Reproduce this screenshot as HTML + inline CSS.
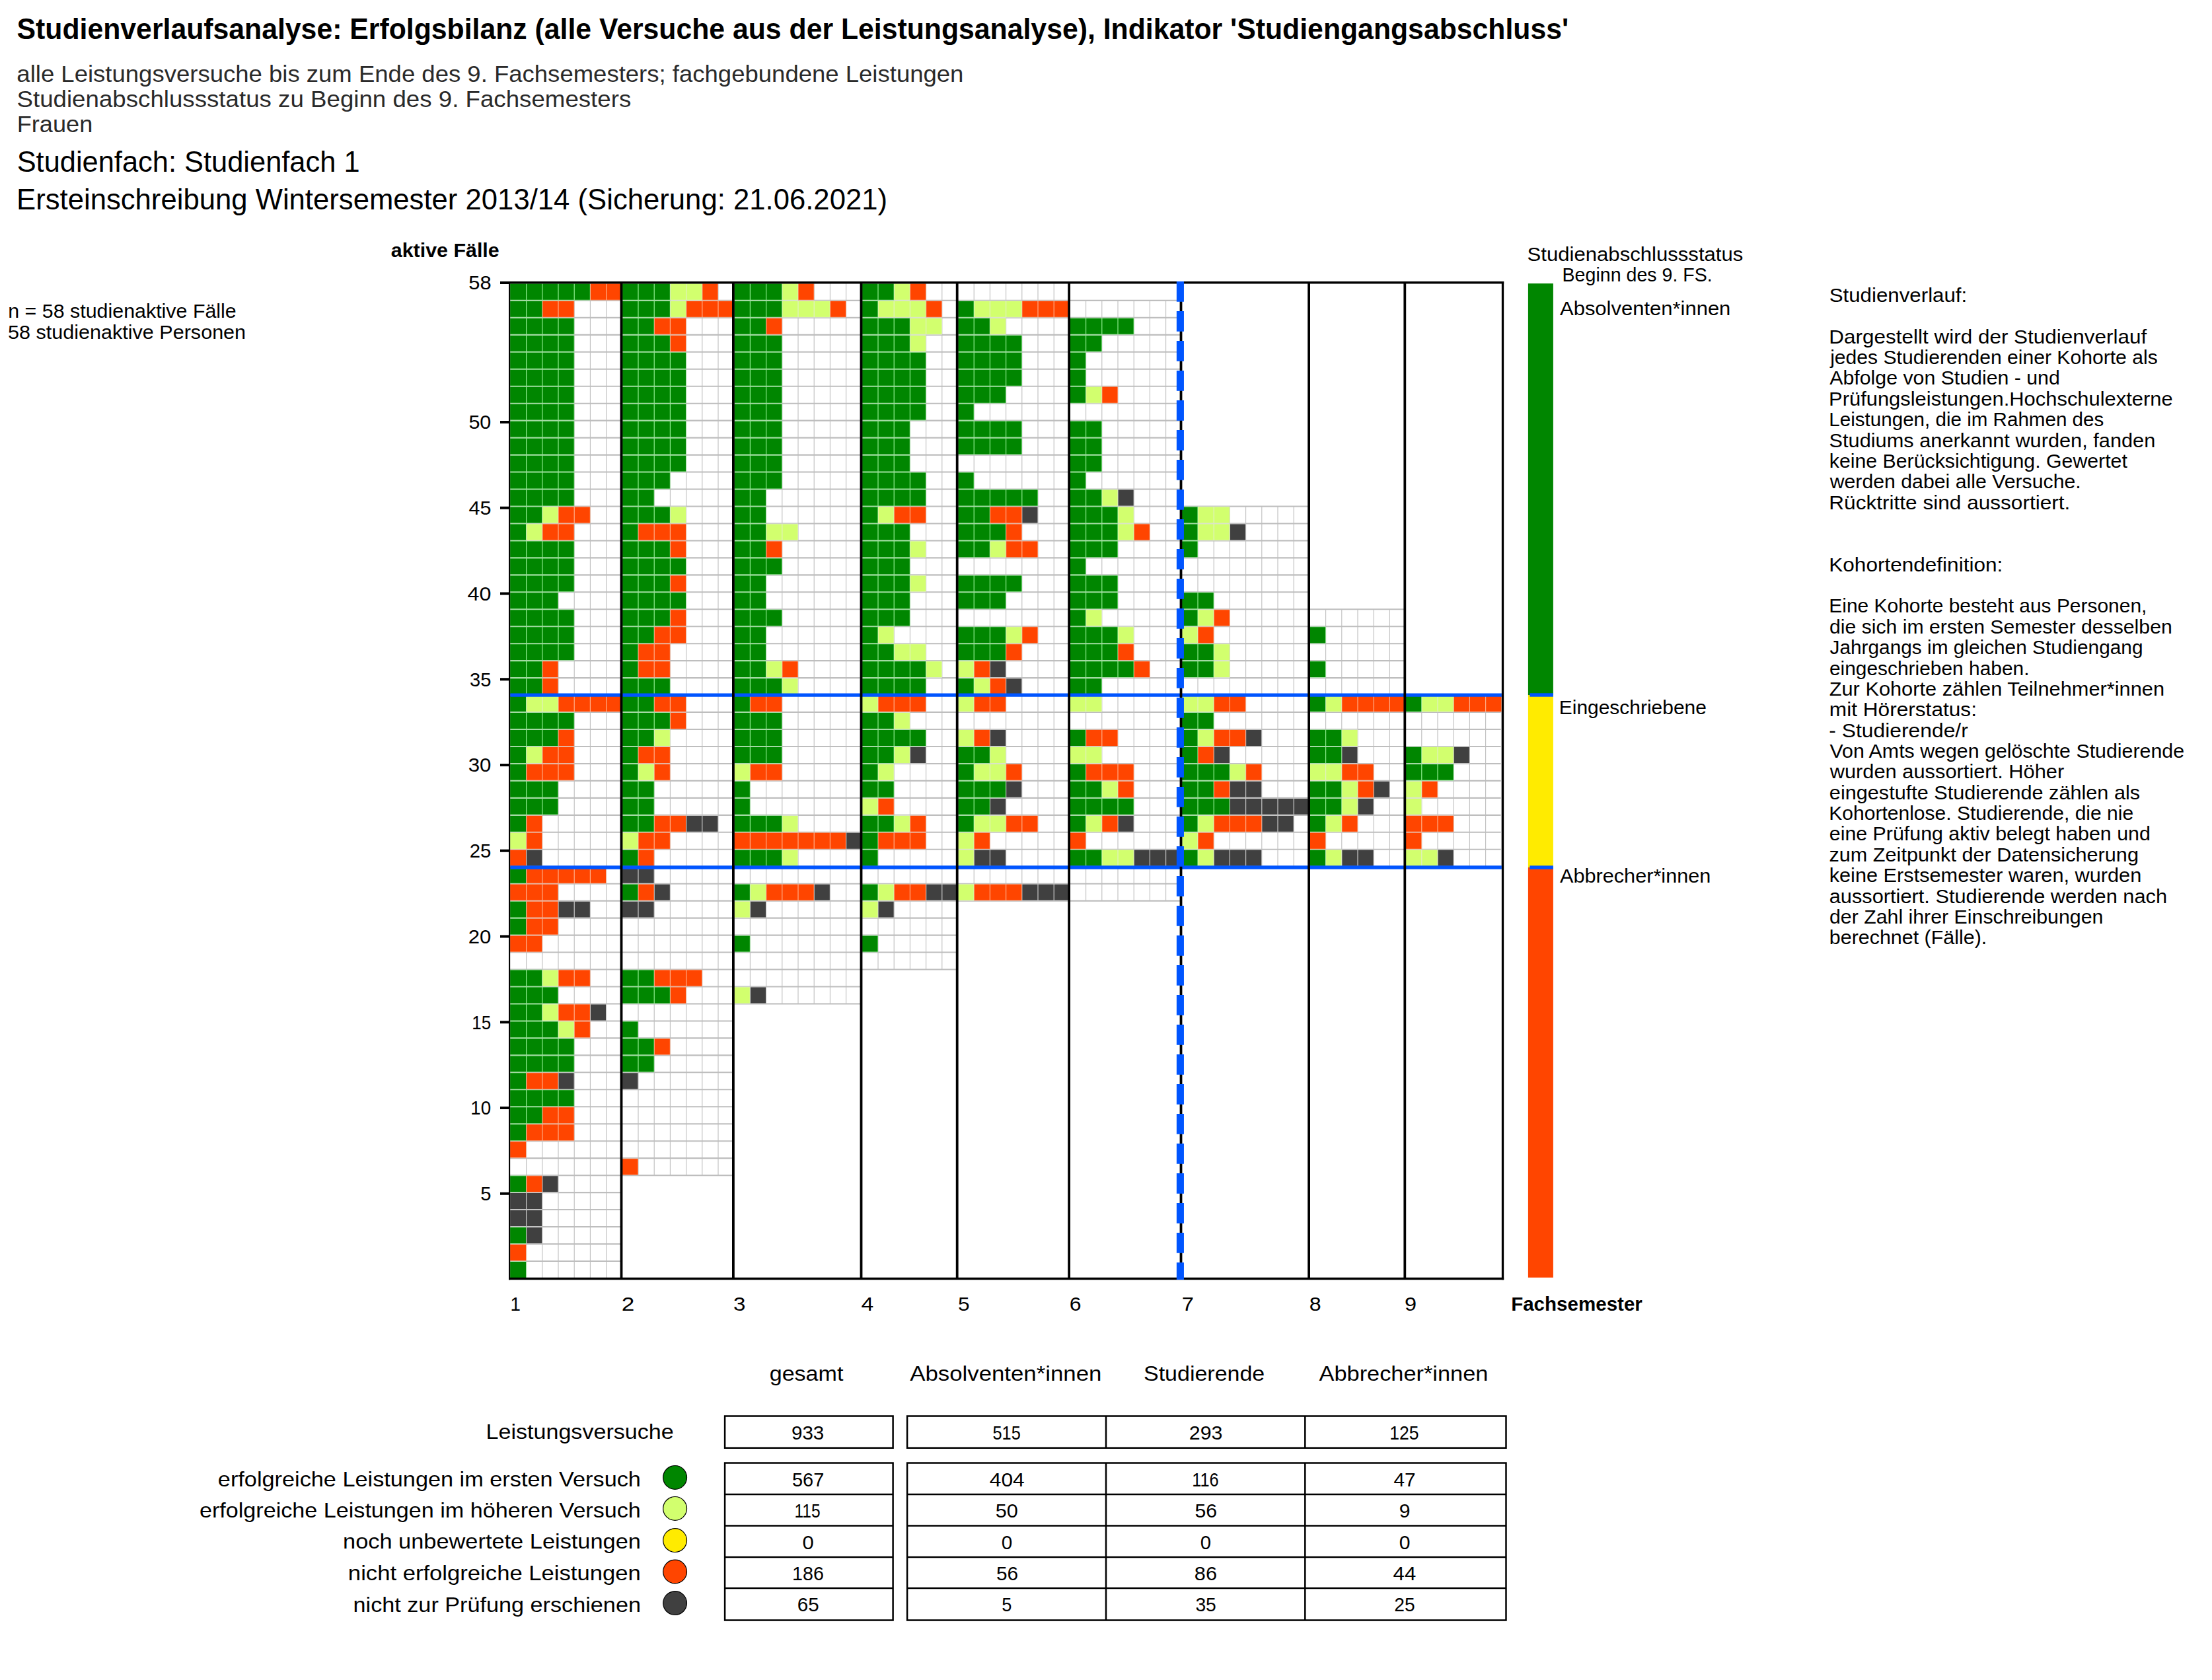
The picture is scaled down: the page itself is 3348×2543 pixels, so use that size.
<!DOCTYPE html>
<html lang="de"><head><meta charset="utf-8"><title>Studienverlaufsanalyse</title>
<style>html,body{margin:0;padding:0;background:#fff;width:3348px;height:2543px;overflow:hidden}</style>
</head><body>
<svg width="3348" height="2543" viewBox="0 0 3348 2543" style="display:block;position:absolute;left:0;top:0">
<rect x="0" y="0" width="3348" height="2543" fill="#FFFFFF"/>
<path d="M771.2 1908.94H940.6M771.2 1882.97H940.6M771.2 1857.01H940.6M771.2 1831.04H940.6M771.2 1805.08H940.6M771.2 1779.11H940.6M771.2 1753.14H940.6M771.2 1727.18H940.6M771.2 1701.22H940.6M771.2 1675.25H940.6M771.2 1649.29H940.6M771.2 1623.32H940.6M771.2 1597.36H940.6M771.2 1571.39H940.6M771.2 1545.43H940.6M771.2 1519.46H940.6M771.2 1493.5H940.6M771.2 1467.53H940.6M771.2 1441.57H940.6M771.2 1415.6H940.6M771.2 1389.64H940.6M771.2 1363.67H940.6M771.2 1337.7H940.6M771.2 1311.74H940.6M771.2 1285.78H940.6M771.2 1259.81H940.6M771.2 1233.85H940.6M771.2 1207.88H940.6M771.2 1181.91H940.6M771.2 1155.95H940.6M771.2 1129.99H940.6M771.2 1104.02H940.6M771.2 1078.06H940.6M771.2 1052.09H940.6M771.2 1026.12H940.6M771.2 1000.16H940.6M771.2 974.2H940.6M771.2 948.23H940.6M771.2 922.27H940.6M771.2 896.3H940.6M771.2 870.34H940.6M771.2 844.37H940.6M771.2 818.41H940.6M771.2 792.44H940.6M771.2 766.48H940.6M771.2 740.51H940.6M771.2 714.55H940.6M771.2 688.58H940.6M771.2 662.62H940.6M771.2 636.65H940.6M771.2 610.69H940.6M771.2 584.72H940.6M771.2 558.76H940.6M771.2 532.79H940.6M771.2 506.83H940.6M771.2 480.86H940.6M771.2 454.9H940.6M940.6 1779.11H1110M940.6 1753.14H1110M940.6 1727.18H1110M940.6 1701.22H1110M940.6 1675.25H1110M940.6 1649.29H1110M940.6 1623.32H1110M940.6 1597.36H1110M940.6 1571.39H1110M940.6 1545.43H1110M940.6 1519.46H1110M940.6 1493.5H1110M940.6 1467.53H1110M940.6 1441.57H1110M940.6 1415.6H1110M940.6 1389.64H1110M940.6 1363.67H1110M940.6 1337.7H1110M940.6 1311.74H1110M940.6 1285.78H1110M940.6 1259.81H1110M940.6 1233.85H1110M940.6 1207.88H1110M940.6 1181.91H1110M940.6 1155.95H1110M940.6 1129.99H1110M940.6 1104.02H1110M940.6 1078.06H1110M940.6 1052.09H1110M940.6 1026.12H1110M940.6 1000.16H1110M940.6 974.2H1110M940.6 948.23H1110M940.6 922.27H1110M940.6 896.3H1110M940.6 870.34H1110M940.6 844.37H1110M940.6 818.41H1110M940.6 792.44H1110M940.6 766.48H1110M940.6 740.51H1110M940.6 714.55H1110M940.6 688.58H1110M940.6 662.62H1110M940.6 636.65H1110M940.6 610.69H1110M940.6 584.72H1110M940.6 558.76H1110M940.6 532.79H1110M940.6 506.83H1110M940.6 480.86H1110M940.6 454.9H1110M1110 1519.46H1303.6M1110 1493.5H1303.6M1110 1467.53H1303.6M1110 1441.57H1303.6M1110 1415.6H1303.6M1110 1389.64H1303.6M1110 1363.67H1303.6M1110 1337.7H1303.6M1110 1311.74H1303.6M1110 1285.78H1303.6M1110 1259.81H1303.6M1110 1233.85H1303.6M1110 1207.88H1303.6M1110 1181.91H1303.6M1110 1155.95H1303.6M1110 1129.99H1303.6M1110 1104.02H1303.6M1110 1078.06H1303.6M1110 1052.09H1303.6M1110 1026.12H1303.6M1110 1000.16H1303.6M1110 974.2H1303.6M1110 948.23H1303.6M1110 922.27H1303.6M1110 896.3H1303.6M1110 870.34H1303.6M1110 844.37H1303.6M1110 818.41H1303.6M1110 792.44H1303.6M1110 766.48H1303.6M1110 740.51H1303.6M1110 714.55H1303.6M1110 688.58H1303.6M1110 662.62H1303.6M1110 636.65H1303.6M1110 610.69H1303.6M1110 584.72H1303.6M1110 558.76H1303.6M1110 532.79H1303.6M1110 506.83H1303.6M1110 480.86H1303.6M1110 454.9H1303.6M1303.6 1467.53H1448.8M1303.6 1441.57H1448.8M1303.6 1415.6H1448.8M1303.6 1389.64H1448.8M1303.6 1363.67H1448.8M1303.6 1337.7H1448.8M1303.6 1311.74H1448.8M1303.6 1285.78H1448.8M1303.6 1259.81H1448.8M1303.6 1233.85H1448.8M1303.6 1207.88H1448.8M1303.6 1181.91H1448.8M1303.6 1155.95H1448.8M1303.6 1129.99H1448.8M1303.6 1104.02H1448.8M1303.6 1078.06H1448.8M1303.6 1052.09H1448.8M1303.6 1026.12H1448.8M1303.6 1000.16H1448.8M1303.6 974.2H1448.8M1303.6 948.23H1448.8M1303.6 922.27H1448.8M1303.6 896.3H1448.8M1303.6 870.34H1448.8M1303.6 844.37H1448.8M1303.6 818.41H1448.8M1303.6 792.44H1448.8M1303.6 766.48H1448.8M1303.6 740.51H1448.8M1303.6 714.55H1448.8M1303.6 688.58H1448.8M1303.6 662.62H1448.8M1303.6 636.65H1448.8M1303.6 610.69H1448.8M1303.6 584.72H1448.8M1303.6 558.76H1448.8M1303.6 532.79H1448.8M1303.6 506.83H1448.8M1303.6 480.86H1448.8M1303.6 454.9H1448.8M1448.8 1363.67H1618.2M1448.8 1337.7H1618.2M1448.8 1311.74H1618.2M1448.8 1285.78H1618.2M1448.8 1259.81H1618.2M1448.8 1233.85H1618.2M1448.8 1207.88H1618.2M1448.8 1181.91H1618.2M1448.8 1155.95H1618.2M1448.8 1129.99H1618.2M1448.8 1104.02H1618.2M1448.8 1078.06H1618.2M1448.8 1052.09H1618.2M1448.8 1026.12H1618.2M1448.8 1000.16H1618.2M1448.8 974.2H1618.2M1448.8 948.23H1618.2M1448.8 922.27H1618.2M1448.8 896.3H1618.2M1448.8 870.34H1618.2M1448.8 844.37H1618.2M1448.8 818.41H1618.2M1448.8 792.44H1618.2M1448.8 766.48H1618.2M1448.8 740.51H1618.2M1448.8 714.55H1618.2M1448.8 688.58H1618.2M1448.8 662.62H1618.2M1448.8 636.65H1618.2M1448.8 610.69H1618.2M1448.8 584.72H1618.2M1448.8 558.76H1618.2M1448.8 532.79H1618.2M1448.8 506.83H1618.2M1448.8 480.86H1618.2M1448.8 454.9H1618.2M1618.2 1363.67H1787.6M1618.2 1337.7H1787.6M1618.2 1311.74H1787.6M1618.2 1285.78H1787.6M1618.2 1259.81H1787.6M1618.2 1233.85H1787.6M1618.2 1207.88H1787.6M1618.2 1181.91H1787.6M1618.2 1155.95H1787.6M1618.2 1129.99H1787.6M1618.2 1104.02H1787.6M1618.2 1078.06H1787.6M1618.2 1052.09H1787.6M1618.2 1026.12H1787.6M1618.2 1000.16H1787.6M1618.2 974.2H1787.6M1618.2 948.23H1787.6M1618.2 922.27H1787.6M1618.2 896.3H1787.6M1618.2 870.34H1787.6M1618.2 844.37H1787.6M1618.2 818.41H1787.6M1618.2 792.44H1787.6M1618.2 766.48H1787.6M1618.2 740.51H1787.6M1618.2 714.55H1787.6M1618.2 688.58H1787.6M1618.2 662.62H1787.6M1618.2 636.65H1787.6M1618.2 610.69H1787.6M1618.2 584.72H1787.6M1618.2 558.76H1787.6M1618.2 532.79H1787.6M1618.2 506.83H1787.6M1618.2 480.86H1787.6M1618.2 454.9H1787.6M1787.6 1311.74H1981.2M1787.6 1285.78H1981.2M1787.6 1259.81H1981.2M1787.6 1233.85H1981.2M1787.6 1207.88H1981.2M1787.6 1181.91H1981.2M1787.6 1155.95H1981.2M1787.6 1129.99H1981.2M1787.6 1104.02H1981.2M1787.6 1078.06H1981.2M1787.6 1052.09H1981.2M1787.6 1026.12H1981.2M1787.6 1000.16H1981.2M1787.6 974.2H1981.2M1787.6 948.23H1981.2M1787.6 922.27H1981.2M1787.6 896.3H1981.2M1787.6 870.34H1981.2M1787.6 844.37H1981.2M1787.6 818.41H1981.2M1787.6 792.44H1981.2M1787.6 766.48H1981.2M1981.2 1311.74H2126.4M1981.2 1285.78H2126.4M1981.2 1259.81H2126.4M1981.2 1233.85H2126.4M1981.2 1207.88H2126.4M1981.2 1181.91H2126.4M1981.2 1155.95H2126.4M1981.2 1129.99H2126.4M1981.2 1104.02H2126.4M1981.2 1078.06H2126.4M1981.2 1052.09H2126.4M1981.2 1026.12H2126.4M1981.2 1000.16H2126.4M1981.2 974.2H2126.4M1981.2 948.23H2126.4M1981.2 922.27H2126.4M2126.4 1311.74H2271.6M2126.4 1285.78H2271.6M2126.4 1259.81H2271.6M2126.4 1233.85H2271.6M2126.4 1207.88H2271.6M2126.4 1181.91H2271.6M2126.4 1155.95H2271.6M2126.4 1129.99H2271.6M2126.4 1104.02H2271.6M2126.4 1078.06H2271.6M2126.4 1052.09H2271.6" stroke="#BEBEBE" stroke-width="2.1" fill="none"/>
<path d="M796.6 429.3V1934.9M820.8 429.3V1934.9M845 429.3V1934.9M869.2 429.3V1934.9M893.4 429.3V1934.9M917.6 429.3V1934.9M966 429.3V1779.11M990.2 429.3V1779.11M1014.4 429.3V1779.11M1038.6 429.3V1779.11M1062.8 429.3V1779.11M1087 429.3V1779.11M1135.4 429.3V1519.46M1159.6 429.3V1519.46M1183.8 429.3V1519.46M1208 429.3V1519.46M1232.2 429.3V1519.46M1256.4 429.3V1519.46M1280.6 429.3V1519.46M1329 429.3V1467.53M1353.2 429.3V1467.53M1377.4 429.3V1467.53M1401.6 429.3V1467.53M1425.8 429.3V1467.53M1474.2 429.3V1363.67M1498.4 429.3V1363.67M1522.6 429.3V1363.67M1546.8 429.3V1363.67M1571 429.3V1363.67M1595.2 429.3V1363.67M1643.6 454.9V1363.67M1667.8 454.9V1363.67M1692 454.9V1363.67M1716.2 454.9V1363.67M1740.4 454.9V1363.67M1764.6 454.9V1363.67M1813 766.48V1311.74M1837.2 766.48V1311.74M1861.4 766.48V1311.74M1885.6 766.48V1311.74M1909.8 766.48V1311.74M1934 766.48V1311.74M1958.2 766.48V1311.74M2006.6 922.27V1311.74M2030.8 922.27V1311.74M2055 922.27V1311.74M2079.2 922.27V1311.74M2103.4 922.27V1311.74M2151.8 1052.09V1311.74M2176 1052.09V1311.74M2200.2 1052.09V1311.74M2224.4 1052.09V1311.74M2248.6 1052.09V1311.74M2272.8 1052.09V1311.74" stroke="#BEBEBE" stroke-width="1.1" fill="none"/>
<path d="M772.2 429.4H796.6V454.9H772.2ZM796.6 429.4H820.8V454.9H796.6ZM820.8 429.4H845V454.9H820.8ZM845 429.4H869.2V454.9H845ZM869.2 429.4H893.4V454.9H869.2ZM942.1 429.4H966V454.9H942.1ZM966 429.4H990.2V454.9H966ZM990.2 429.4H1014.4V454.9H990.2ZM1111.5 429.4H1135.4V454.9H1111.5ZM1135.4 429.4H1159.6V454.9H1135.4ZM1159.6 429.4H1183.8V454.9H1159.6ZM1305.1 429.4H1329V454.9H1305.1ZM1329 429.4H1353.2V454.9H1329ZM772.2 454.9H796.6V480.86H772.2ZM796.6 454.9H820.8V480.86H796.6ZM942.1 454.9H966V480.86H942.1ZM966 454.9H990.2V480.86H966ZM990.2 454.9H1014.4V480.86H990.2ZM1111.5 454.9H1135.4V480.86H1111.5ZM1135.4 454.9H1159.6V480.86H1135.4ZM1159.6 454.9H1183.8V480.86H1159.6ZM1305.1 454.9H1329V480.86H1305.1ZM1450.3 454.9H1474.2V480.86H1450.3ZM772.2 480.86H796.6V506.83H772.2ZM796.6 480.86H820.8V506.83H796.6ZM820.8 480.86H845V506.83H820.8ZM845 480.86H869.2V506.83H845ZM942.1 480.86H966V506.83H942.1ZM966 480.86H990.2V506.83H966ZM1111.5 480.86H1135.4V506.83H1111.5ZM1135.4 480.86H1159.6V506.83H1135.4ZM1305.1 480.86H1329V506.83H1305.1ZM1329 480.86H1353.2V506.83H1329ZM1353.2 480.86H1377.4V506.83H1353.2ZM1450.3 480.86H1474.2V506.83H1450.3ZM1474.2 480.86H1498.4V506.83H1474.2ZM1619.7 480.86H1643.6V506.83H1619.7ZM1643.6 480.86H1667.8V506.83H1643.6ZM1667.8 480.86H1692V506.83H1667.8ZM1692 480.86H1716.2V506.83H1692ZM772.2 506.83H796.6V532.79H772.2ZM796.6 506.83H820.8V532.79H796.6ZM820.8 506.83H845V532.79H820.8ZM845 506.83H869.2V532.79H845ZM942.1 506.83H966V532.79H942.1ZM966 506.83H990.2V532.79H966ZM990.2 506.83H1014.4V532.79H990.2ZM1111.5 506.83H1135.4V532.79H1111.5ZM1135.4 506.83H1159.6V532.79H1135.4ZM1159.6 506.83H1183.8V532.79H1159.6ZM1305.1 506.83H1329V532.79H1305.1ZM1329 506.83H1353.2V532.79H1329ZM1353.2 506.83H1377.4V532.79H1353.2ZM1450.3 506.83H1474.2V532.79H1450.3ZM1474.2 506.83H1498.4V532.79H1474.2ZM1498.4 506.83H1522.6V532.79H1498.4ZM1522.6 506.83H1546.8V532.79H1522.6ZM1619.7 506.83H1643.6V532.79H1619.7ZM1643.6 506.83H1667.8V532.79H1643.6ZM772.2 532.79H796.6V558.76H772.2ZM796.6 532.79H820.8V558.76H796.6ZM820.8 532.79H845V558.76H820.8ZM845 532.79H869.2V558.76H845ZM942.1 532.79H966V558.76H942.1ZM966 532.79H990.2V558.76H966ZM990.2 532.79H1014.4V558.76H990.2ZM1014.4 532.79H1038.6V558.76H1014.4ZM1111.5 532.79H1135.4V558.76H1111.5ZM1135.4 532.79H1159.6V558.76H1135.4ZM1159.6 532.79H1183.8V558.76H1159.6ZM1305.1 532.79H1329V558.76H1305.1ZM1329 532.79H1353.2V558.76H1329ZM1353.2 532.79H1377.4V558.76H1353.2ZM1377.4 532.79H1401.6V558.76H1377.4ZM1450.3 532.79H1474.2V558.76H1450.3ZM1474.2 532.79H1498.4V558.76H1474.2ZM1498.4 532.79H1522.6V558.76H1498.4ZM1522.6 532.79H1546.8V558.76H1522.6ZM1619.7 532.79H1643.6V558.76H1619.7ZM772.2 558.76H796.6V584.72H772.2ZM796.6 558.76H820.8V584.72H796.6ZM820.8 558.76H845V584.72H820.8ZM845 558.76H869.2V584.72H845ZM942.1 558.76H966V584.72H942.1ZM966 558.76H990.2V584.72H966ZM990.2 558.76H1014.4V584.72H990.2ZM1014.4 558.76H1038.6V584.72H1014.4ZM1111.5 558.76H1135.4V584.72H1111.5ZM1135.4 558.76H1159.6V584.72H1135.4ZM1159.6 558.76H1183.8V584.72H1159.6ZM1305.1 558.76H1329V584.72H1305.1ZM1329 558.76H1353.2V584.72H1329ZM1353.2 558.76H1377.4V584.72H1353.2ZM1377.4 558.76H1401.6V584.72H1377.4ZM1450.3 558.76H1474.2V584.72H1450.3ZM1474.2 558.76H1498.4V584.72H1474.2ZM1498.4 558.76H1522.6V584.72H1498.4ZM1522.6 558.76H1546.8V584.72H1522.6ZM1619.7 558.76H1643.6V584.72H1619.7ZM772.2 584.72H796.6V610.69H772.2ZM796.6 584.72H820.8V610.69H796.6ZM820.8 584.72H845V610.69H820.8ZM845 584.72H869.2V610.69H845ZM942.1 584.72H966V610.69H942.1ZM966 584.72H990.2V610.69H966ZM990.2 584.72H1014.4V610.69H990.2ZM1014.4 584.72H1038.6V610.69H1014.4ZM1111.5 584.72H1135.4V610.69H1111.5ZM1135.4 584.72H1159.6V610.69H1135.4ZM1159.6 584.72H1183.8V610.69H1159.6ZM1305.1 584.72H1329V610.69H1305.1ZM1329 584.72H1353.2V610.69H1329ZM1353.2 584.72H1377.4V610.69H1353.2ZM1377.4 584.72H1401.6V610.69H1377.4ZM1450.3 584.72H1474.2V610.69H1450.3ZM1474.2 584.72H1498.4V610.69H1474.2ZM1498.4 584.72H1522.6V610.69H1498.4ZM1619.7 584.72H1643.6V610.69H1619.7ZM772.2 610.69H796.6V636.65H772.2ZM796.6 610.69H820.8V636.65H796.6ZM820.8 610.69H845V636.65H820.8ZM845 610.69H869.2V636.65H845ZM942.1 610.69H966V636.65H942.1ZM966 610.69H990.2V636.65H966ZM990.2 610.69H1014.4V636.65H990.2ZM1014.4 610.69H1038.6V636.65H1014.4ZM1111.5 610.69H1135.4V636.65H1111.5ZM1135.4 610.69H1159.6V636.65H1135.4ZM1159.6 610.69H1183.8V636.65H1159.6ZM1305.1 610.69H1329V636.65H1305.1ZM1329 610.69H1353.2V636.65H1329ZM1353.2 610.69H1377.4V636.65H1353.2ZM1377.4 610.69H1401.6V636.65H1377.4ZM1450.3 610.69H1474.2V636.65H1450.3ZM772.2 636.65H796.6V662.62H772.2ZM796.6 636.65H820.8V662.62H796.6ZM820.8 636.65H845V662.62H820.8ZM845 636.65H869.2V662.62H845ZM942.1 636.65H966V662.62H942.1ZM966 636.65H990.2V662.62H966ZM990.2 636.65H1014.4V662.62H990.2ZM1014.4 636.65H1038.6V662.62H1014.4ZM1111.5 636.65H1135.4V662.62H1111.5ZM1135.4 636.65H1159.6V662.62H1135.4ZM1159.6 636.65H1183.8V662.62H1159.6ZM1305.1 636.65H1329V662.62H1305.1ZM1329 636.65H1353.2V662.62H1329ZM1353.2 636.65H1377.4V662.62H1353.2ZM1450.3 636.65H1474.2V662.62H1450.3ZM1474.2 636.65H1498.4V662.62H1474.2ZM1498.4 636.65H1522.6V662.62H1498.4ZM1522.6 636.65H1546.8V662.62H1522.6ZM1619.7 636.65H1643.6V662.62H1619.7ZM1643.6 636.65H1667.8V662.62H1643.6ZM772.2 662.62H796.6V688.58H772.2ZM796.6 662.62H820.8V688.58H796.6ZM820.8 662.62H845V688.58H820.8ZM845 662.62H869.2V688.58H845ZM942.1 662.62H966V688.58H942.1ZM966 662.62H990.2V688.58H966ZM990.2 662.62H1014.4V688.58H990.2ZM1014.4 662.62H1038.6V688.58H1014.4ZM1111.5 662.62H1135.4V688.58H1111.5ZM1135.4 662.62H1159.6V688.58H1135.4ZM1159.6 662.62H1183.8V688.58H1159.6ZM1305.1 662.62H1329V688.58H1305.1ZM1329 662.62H1353.2V688.58H1329ZM1353.2 662.62H1377.4V688.58H1353.2ZM1450.3 662.62H1474.2V688.58H1450.3ZM1474.2 662.62H1498.4V688.58H1474.2ZM1498.4 662.62H1522.6V688.58H1498.4ZM1522.6 662.62H1546.8V688.58H1522.6ZM1619.7 662.62H1643.6V688.58H1619.7ZM1643.6 662.62H1667.8V688.58H1643.6ZM772.2 688.58H796.6V714.55H772.2ZM796.6 688.58H820.8V714.55H796.6ZM820.8 688.58H845V714.55H820.8ZM845 688.58H869.2V714.55H845ZM942.1 688.58H966V714.55H942.1ZM966 688.58H990.2V714.55H966ZM990.2 688.58H1014.4V714.55H990.2ZM1014.4 688.58H1038.6V714.55H1014.4ZM1111.5 688.58H1135.4V714.55H1111.5ZM1135.4 688.58H1159.6V714.55H1135.4ZM1159.6 688.58H1183.8V714.55H1159.6ZM1305.1 688.58H1329V714.55H1305.1ZM1329 688.58H1353.2V714.55H1329ZM1353.2 688.58H1377.4V714.55H1353.2ZM1619.7 688.58H1643.6V714.55H1619.7ZM1643.6 688.58H1667.8V714.55H1643.6ZM772.2 714.55H796.6V740.51H772.2ZM796.6 714.55H820.8V740.51H796.6ZM820.8 714.55H845V740.51H820.8ZM845 714.55H869.2V740.51H845ZM942.1 714.55H966V740.51H942.1ZM966 714.55H990.2V740.51H966ZM990.2 714.55H1014.4V740.51H990.2ZM1111.5 714.55H1135.4V740.51H1111.5ZM1135.4 714.55H1159.6V740.51H1135.4ZM1159.6 714.55H1183.8V740.51H1159.6ZM1305.1 714.55H1329V740.51H1305.1ZM1329 714.55H1353.2V740.51H1329ZM1353.2 714.55H1377.4V740.51H1353.2ZM1377.4 714.55H1401.6V740.51H1377.4ZM1450.3 714.55H1474.2V740.51H1450.3ZM1619.7 714.55H1643.6V740.51H1619.7ZM772.2 740.51H796.6V766.48H772.2ZM796.6 740.51H820.8V766.48H796.6ZM820.8 740.51H845V766.48H820.8ZM845 740.51H869.2V766.48H845ZM942.1 740.51H966V766.48H942.1ZM966 740.51H990.2V766.48H966ZM1111.5 740.51H1135.4V766.48H1111.5ZM1135.4 740.51H1159.6V766.48H1135.4ZM1305.1 740.51H1329V766.48H1305.1ZM1329 740.51H1353.2V766.48H1329ZM1353.2 740.51H1377.4V766.48H1353.2ZM1377.4 740.51H1401.6V766.48H1377.4ZM1450.3 740.51H1474.2V766.48H1450.3ZM1474.2 740.51H1498.4V766.48H1474.2ZM1498.4 740.51H1522.6V766.48H1498.4ZM1522.6 740.51H1546.8V766.48H1522.6ZM1546.8 740.51H1571V766.48H1546.8ZM1619.7 740.51H1643.6V766.48H1619.7ZM1643.6 740.51H1667.8V766.48H1643.6ZM772.2 766.48H796.6V792.44H772.2ZM796.6 766.48H820.8V792.44H796.6ZM942.1 766.48H966V792.44H942.1ZM966 766.48H990.2V792.44H966ZM990.2 766.48H1014.4V792.44H990.2ZM1111.5 766.48H1135.4V792.44H1111.5ZM1135.4 766.48H1159.6V792.44H1135.4ZM1305.1 766.48H1329V792.44H1305.1ZM1450.3 766.48H1474.2V792.44H1450.3ZM1474.2 766.48H1498.4V792.44H1474.2ZM1619.7 766.48H1643.6V792.44H1619.7ZM1643.6 766.48H1667.8V792.44H1643.6ZM1667.8 766.48H1692V792.44H1667.8ZM1789.1 766.48H1813V792.44H1789.1ZM772.2 792.44H796.6V818.41H772.2ZM942.1 792.44H966V818.41H942.1ZM1111.5 792.44H1135.4V818.41H1111.5ZM1135.4 792.44H1159.6V818.41H1135.4ZM1305.1 792.44H1329V818.41H1305.1ZM1329 792.44H1353.2V818.41H1329ZM1353.2 792.44H1377.4V818.41H1353.2ZM1450.3 792.44H1474.2V818.41H1450.3ZM1474.2 792.44H1498.4V818.41H1474.2ZM1498.4 792.44H1522.6V818.41H1498.4ZM1619.7 792.44H1643.6V818.41H1619.7ZM1643.6 792.44H1667.8V818.41H1643.6ZM1667.8 792.44H1692V818.41H1667.8ZM1789.1 792.44H1813V818.41H1789.1ZM772.2 818.41H796.6V844.37H772.2ZM796.6 818.41H820.8V844.37H796.6ZM820.8 818.41H845V844.37H820.8ZM845 818.41H869.2V844.37H845ZM942.1 818.41H966V844.37H942.1ZM966 818.41H990.2V844.37H966ZM990.2 818.41H1014.4V844.37H990.2ZM1111.5 818.41H1135.4V844.37H1111.5ZM1135.4 818.41H1159.6V844.37H1135.4ZM1305.1 818.41H1329V844.37H1305.1ZM1329 818.41H1353.2V844.37H1329ZM1353.2 818.41H1377.4V844.37H1353.2ZM1450.3 818.41H1474.2V844.37H1450.3ZM1474.2 818.41H1498.4V844.37H1474.2ZM1619.7 818.41H1643.6V844.37H1619.7ZM1643.6 818.41H1667.8V844.37H1643.6ZM1667.8 818.41H1692V844.37H1667.8ZM1789.1 818.41H1813V844.37H1789.1ZM772.2 844.37H796.6V870.34H772.2ZM796.6 844.37H820.8V870.34H796.6ZM820.8 844.37H845V870.34H820.8ZM845 844.37H869.2V870.34H845ZM942.1 844.37H966V870.34H942.1ZM966 844.37H990.2V870.34H966ZM990.2 844.37H1014.4V870.34H990.2ZM1014.4 844.37H1038.6V870.34H1014.4ZM1111.5 844.37H1135.4V870.34H1111.5ZM1135.4 844.37H1159.6V870.34H1135.4ZM1159.6 844.37H1183.8V870.34H1159.6ZM1305.1 844.37H1329V870.34H1305.1ZM1329 844.37H1353.2V870.34H1329ZM1353.2 844.37H1377.4V870.34H1353.2ZM1619.7 844.37H1643.6V870.34H1619.7ZM772.2 870.34H796.6V896.3H772.2ZM796.6 870.34H820.8V896.3H796.6ZM820.8 870.34H845V896.3H820.8ZM845 870.34H869.2V896.3H845ZM942.1 870.34H966V896.3H942.1ZM966 870.34H990.2V896.3H966ZM990.2 870.34H1014.4V896.3H990.2ZM1111.5 870.34H1135.4V896.3H1111.5ZM1135.4 870.34H1159.6V896.3H1135.4ZM1305.1 870.34H1329V896.3H1305.1ZM1329 870.34H1353.2V896.3H1329ZM1353.2 870.34H1377.4V896.3H1353.2ZM1450.3 870.34H1474.2V896.3H1450.3ZM1474.2 870.34H1498.4V896.3H1474.2ZM1498.4 870.34H1522.6V896.3H1498.4ZM1522.6 870.34H1546.8V896.3H1522.6ZM1619.7 870.34H1643.6V896.3H1619.7ZM1643.6 870.34H1667.8V896.3H1643.6ZM1667.8 870.34H1692V896.3H1667.8ZM772.2 896.3H796.6V922.27H772.2ZM796.6 896.3H820.8V922.27H796.6ZM820.8 896.3H845V922.27H820.8ZM942.1 896.3H966V922.27H942.1ZM966 896.3H990.2V922.27H966ZM990.2 896.3H1014.4V922.27H990.2ZM1014.4 896.3H1038.6V922.27H1014.4ZM1111.5 896.3H1135.4V922.27H1111.5ZM1135.4 896.3H1159.6V922.27H1135.4ZM1305.1 896.3H1329V922.27H1305.1ZM1329 896.3H1353.2V922.27H1329ZM1353.2 896.3H1377.4V922.27H1353.2ZM1450.3 896.3H1474.2V922.27H1450.3ZM1474.2 896.3H1498.4V922.27H1474.2ZM1498.4 896.3H1522.6V922.27H1498.4ZM1619.7 896.3H1643.6V922.27H1619.7ZM1643.6 896.3H1667.8V922.27H1643.6ZM1667.8 896.3H1692V922.27H1667.8ZM1789.1 896.3H1813V922.27H1789.1ZM1813 896.3H1837.2V922.27H1813ZM772.2 922.27H796.6V948.23H772.2ZM796.6 922.27H820.8V948.23H796.6ZM820.8 922.27H845V948.23H820.8ZM845 922.27H869.2V948.23H845ZM942.1 922.27H966V948.23H942.1ZM966 922.27H990.2V948.23H966ZM990.2 922.27H1014.4V948.23H990.2ZM1111.5 922.27H1135.4V948.23H1111.5ZM1135.4 922.27H1159.6V948.23H1135.4ZM1159.6 922.27H1183.8V948.23H1159.6ZM1305.1 922.27H1329V948.23H1305.1ZM1329 922.27H1353.2V948.23H1329ZM1353.2 922.27H1377.4V948.23H1353.2ZM1619.7 922.27H1643.6V948.23H1619.7ZM1789.1 922.27H1813V948.23H1789.1ZM772.2 948.23H796.6V974.2H772.2ZM796.6 948.23H820.8V974.2H796.6ZM820.8 948.23H845V974.2H820.8ZM845 948.23H869.2V974.2H845ZM942.1 948.23H966V974.2H942.1ZM966 948.23H990.2V974.2H966ZM1111.5 948.23H1135.4V974.2H1111.5ZM1135.4 948.23H1159.6V974.2H1135.4ZM1305.1 948.23H1329V974.2H1305.1ZM1450.3 948.23H1474.2V974.2H1450.3ZM1474.2 948.23H1498.4V974.2H1474.2ZM1498.4 948.23H1522.6V974.2H1498.4ZM1619.7 948.23H1643.6V974.2H1619.7ZM1643.6 948.23H1667.8V974.2H1643.6ZM1667.8 948.23H1692V974.2H1667.8ZM1982.7 948.23H2006.6V974.2H1982.7ZM772.2 974.2H796.6V1000.16H772.2ZM796.6 974.2H820.8V1000.16H796.6ZM820.8 974.2H845V1000.16H820.8ZM845 974.2H869.2V1000.16H845ZM942.1 974.2H966V1000.16H942.1ZM1111.5 974.2H1135.4V1000.16H1111.5ZM1135.4 974.2H1159.6V1000.16H1135.4ZM1305.1 974.2H1329V1000.16H1305.1ZM1329 974.2H1353.2V1000.16H1329ZM1450.3 974.2H1474.2V1000.16H1450.3ZM1474.2 974.2H1498.4V1000.16H1474.2ZM1498.4 974.2H1522.6V1000.16H1498.4ZM1619.7 974.2H1643.6V1000.16H1619.7ZM1643.6 974.2H1667.8V1000.16H1643.6ZM1667.8 974.2H1692V1000.16H1667.8ZM1789.1 974.2H1813V1000.16H1789.1ZM1813 974.2H1837.2V1000.16H1813ZM772.2 1000.16H796.6V1026.12H772.2ZM796.6 1000.16H820.8V1026.12H796.6ZM942.1 1000.16H966V1026.12H942.1ZM1111.5 1000.16H1135.4V1026.12H1111.5ZM1135.4 1000.16H1159.6V1026.12H1135.4ZM1305.1 1000.16H1329V1026.12H1305.1ZM1329 1000.16H1353.2V1026.12H1329ZM1353.2 1000.16H1377.4V1026.12H1353.2ZM1377.4 1000.16H1401.6V1026.12H1377.4ZM1619.7 1000.16H1643.6V1026.12H1619.7ZM1643.6 1000.16H1667.8V1026.12H1643.6ZM1667.8 1000.16H1692V1026.12H1667.8ZM1692 1000.16H1716.2V1026.12H1692ZM1789.1 1000.16H1813V1026.12H1789.1ZM1813 1000.16H1837.2V1026.12H1813ZM1982.7 1000.16H2006.6V1026.12H1982.7ZM772.2 1026.12H796.6V1052.09H772.2ZM796.6 1026.12H820.8V1052.09H796.6ZM942.1 1026.12H966V1052.09H942.1ZM966 1026.12H990.2V1052.09H966ZM990.2 1026.12H1014.4V1052.09H990.2ZM1111.5 1026.12H1135.4V1052.09H1111.5ZM1135.4 1026.12H1159.6V1052.09H1135.4ZM1159.6 1026.12H1183.8V1052.09H1159.6ZM1305.1 1026.12H1329V1052.09H1305.1ZM1329 1026.12H1353.2V1052.09H1329ZM1353.2 1026.12H1377.4V1052.09H1353.2ZM1377.4 1026.12H1401.6V1052.09H1377.4ZM1450.3 1026.12H1474.2V1052.09H1450.3ZM1619.7 1026.12H1643.6V1052.09H1619.7ZM1643.6 1026.12H1667.8V1052.09H1643.6ZM772.2 1052.09H796.6V1078.06H772.2ZM942.1 1052.09H966V1078.06H942.1ZM966 1052.09H990.2V1078.06H966ZM1111.5 1052.09H1135.4V1078.06H1111.5ZM1982.7 1052.09H2006.6V1078.06H1982.7ZM2127.9 1052.09H2151.8V1078.06H2127.9ZM772.2 1078.06H796.6V1104.02H772.2ZM796.6 1078.06H820.8V1104.02H796.6ZM820.8 1078.06H845V1104.02H820.8ZM845 1078.06H869.2V1104.02H845ZM942.1 1078.06H966V1104.02H942.1ZM966 1078.06H990.2V1104.02H966ZM990.2 1078.06H1014.4V1104.02H990.2ZM1111.5 1078.06H1135.4V1104.02H1111.5ZM1135.4 1078.06H1159.6V1104.02H1135.4ZM1159.6 1078.06H1183.8V1104.02H1159.6ZM1305.1 1078.06H1329V1104.02H1305.1ZM1329 1078.06H1353.2V1104.02H1329ZM1789.1 1078.06H1813V1104.02H1789.1ZM1813 1078.06H1837.2V1104.02H1813ZM772.2 1104.02H796.6V1129.99H772.2ZM796.6 1104.02H820.8V1129.99H796.6ZM820.8 1104.02H845V1129.99H820.8ZM942.1 1104.02H966V1129.99H942.1ZM966 1104.02H990.2V1129.99H966ZM1111.5 1104.02H1135.4V1129.99H1111.5ZM1135.4 1104.02H1159.6V1129.99H1135.4ZM1159.6 1104.02H1183.8V1129.99H1159.6ZM1305.1 1104.02H1329V1129.99H1305.1ZM1329 1104.02H1353.2V1129.99H1329ZM1353.2 1104.02H1377.4V1129.99H1353.2ZM1377.4 1104.02H1401.6V1129.99H1377.4ZM1619.7 1104.02H1643.6V1129.99H1619.7ZM1789.1 1104.02H1813V1129.99H1789.1ZM1982.7 1104.02H2006.6V1129.99H1982.7ZM2006.6 1104.02H2030.8V1129.99H2006.6ZM772.2 1129.99H796.6V1155.95H772.2ZM942.1 1129.99H966V1155.95H942.1ZM1111.5 1129.99H1135.4V1155.95H1111.5ZM1135.4 1129.99H1159.6V1155.95H1135.4ZM1159.6 1129.99H1183.8V1155.95H1159.6ZM1305.1 1129.99H1329V1155.95H1305.1ZM1329 1129.99H1353.2V1155.95H1329ZM1450.3 1129.99H1474.2V1155.95H1450.3ZM1474.2 1129.99H1498.4V1155.95H1474.2ZM1789.1 1129.99H1813V1155.95H1789.1ZM1982.7 1129.99H2006.6V1155.95H1982.7ZM2006.6 1129.99H2030.8V1155.95H2006.6ZM2127.9 1129.99H2151.8V1155.95H2127.9ZM772.2 1155.95H796.6V1181.91H772.2ZM942.1 1155.95H966V1181.91H942.1ZM1305.1 1155.95H1329V1181.91H1305.1ZM1450.3 1155.95H1474.2V1181.91H1450.3ZM1619.7 1155.95H1643.6V1181.91H1619.7ZM1789.1 1155.95H1813V1181.91H1789.1ZM1813 1155.95H1837.2V1181.91H1813ZM1837.2 1155.95H1861.4V1181.91H1837.2ZM2127.9 1155.95H2151.8V1181.91H2127.9ZM2151.8 1155.95H2176V1181.91H2151.8ZM2176 1155.95H2200.2V1181.91H2176ZM772.2 1181.91H796.6V1207.88H772.2ZM796.6 1181.91H820.8V1207.88H796.6ZM820.8 1181.91H845V1207.88H820.8ZM942.1 1181.91H966V1207.88H942.1ZM966 1181.91H990.2V1207.88H966ZM1111.5 1181.91H1135.4V1207.88H1111.5ZM1305.1 1181.91H1329V1207.88H1305.1ZM1329 1181.91H1353.2V1207.88H1329ZM1450.3 1181.91H1474.2V1207.88H1450.3ZM1474.2 1181.91H1498.4V1207.88H1474.2ZM1498.4 1181.91H1522.6V1207.88H1498.4ZM1619.7 1181.91H1643.6V1207.88H1619.7ZM1643.6 1181.91H1667.8V1207.88H1643.6ZM1789.1 1181.91H1813V1207.88H1789.1ZM1813 1181.91H1837.2V1207.88H1813ZM1982.7 1181.91H2006.6V1207.88H1982.7ZM2006.6 1181.91H2030.8V1207.88H2006.6ZM772.2 1207.88H796.6V1233.85H772.2ZM796.6 1207.88H820.8V1233.85H796.6ZM820.8 1207.88H845V1233.85H820.8ZM942.1 1207.88H966V1233.85H942.1ZM966 1207.88H990.2V1233.85H966ZM1111.5 1207.88H1135.4V1233.85H1111.5ZM1450.3 1207.88H1474.2V1233.85H1450.3ZM1474.2 1207.88H1498.4V1233.85H1474.2ZM1619.7 1207.88H1643.6V1233.85H1619.7ZM1643.6 1207.88H1667.8V1233.85H1643.6ZM1667.8 1207.88H1692V1233.85H1667.8ZM1692 1207.88H1716.2V1233.85H1692ZM1789.1 1207.88H1813V1233.85H1789.1ZM1813 1207.88H1837.2V1233.85H1813ZM1837.2 1207.88H1861.4V1233.85H1837.2ZM1982.7 1207.88H2006.6V1233.85H1982.7ZM2006.6 1207.88H2030.8V1233.85H2006.6ZM772.2 1233.85H796.6V1259.81H772.2ZM942.1 1233.85H966V1259.81H942.1ZM966 1233.85H990.2V1259.81H966ZM1111.5 1233.85H1135.4V1259.81H1111.5ZM1135.4 1233.85H1159.6V1259.81H1135.4ZM1159.6 1233.85H1183.8V1259.81H1159.6ZM1305.1 1233.85H1329V1259.81H1305.1ZM1329 1233.85H1353.2V1259.81H1329ZM1450.3 1233.85H1474.2V1259.81H1450.3ZM1619.7 1233.85H1643.6V1259.81H1619.7ZM1789.1 1233.85H1813V1259.81H1789.1ZM1982.7 1233.85H2006.6V1259.81H1982.7ZM1305.1 1259.81H1329V1285.78H1305.1ZM942.1 1285.78H966V1311.74H942.1ZM1111.5 1285.78H1135.4V1311.74H1111.5ZM1135.4 1285.78H1159.6V1311.74H1135.4ZM1159.6 1285.78H1183.8V1311.74H1159.6ZM1305.1 1285.78H1329V1311.74H1305.1ZM1619.7 1285.78H1643.6V1311.74H1619.7ZM1643.6 1285.78H1667.8V1311.74H1643.6ZM1789.1 1285.78H1813V1311.74H1789.1ZM1982.7 1285.78H2006.6V1311.74H1982.7ZM772.2 1311.74H796.6V1337.7H772.2ZM942.1 1337.7H966V1363.67H942.1ZM1111.5 1337.7H1135.4V1363.67H1111.5ZM1305.1 1337.7H1329V1363.67H1305.1ZM772.2 1363.67H796.6V1389.64H772.2ZM772.2 1389.64H796.6V1415.6H772.2ZM1111.5 1415.6H1135.4V1441.57H1111.5ZM1305.1 1415.6H1329V1441.57H1305.1ZM772.2 1467.53H796.6V1493.5H772.2ZM796.6 1467.53H820.8V1493.5H796.6ZM942.1 1467.53H966V1493.5H942.1ZM966 1467.53H990.2V1493.5H966ZM772.2 1493.5H796.6V1519.46H772.2ZM796.6 1493.5H820.8V1519.46H796.6ZM820.8 1493.5H845V1519.46H820.8ZM942.1 1493.5H966V1519.46H942.1ZM966 1493.5H990.2V1519.46H966ZM990.2 1493.5H1014.4V1519.46H990.2ZM772.2 1519.46H796.6V1545.43H772.2ZM796.6 1519.46H820.8V1545.43H796.6ZM772.2 1545.43H796.6V1571.39H772.2ZM796.6 1545.43H820.8V1571.39H796.6ZM820.8 1545.43H845V1571.39H820.8ZM942.1 1545.43H966V1571.39H942.1ZM772.2 1571.39H796.6V1597.36H772.2ZM796.6 1571.39H820.8V1597.36H796.6ZM820.8 1571.39H845V1597.36H820.8ZM845 1571.39H869.2V1597.36H845ZM942.1 1571.39H966V1597.36H942.1ZM966 1571.39H990.2V1597.36H966ZM772.2 1597.36H796.6V1623.32H772.2ZM796.6 1597.36H820.8V1623.32H796.6ZM820.8 1597.36H845V1623.32H820.8ZM845 1597.36H869.2V1623.32H845ZM942.1 1597.36H966V1623.32H942.1ZM966 1597.36H990.2V1623.32H966ZM772.2 1623.32H796.6V1649.29H772.2ZM772.2 1649.29H796.6V1675.25H772.2ZM796.6 1649.29H820.8V1675.25H796.6ZM820.8 1649.29H845V1675.25H820.8ZM845 1649.29H869.2V1675.25H845ZM772.2 1675.25H796.6V1701.22H772.2ZM796.6 1675.25H820.8V1701.22H796.6ZM772.2 1701.22H796.6V1727.18H772.2ZM772.2 1779.11H796.6V1805.08H772.2ZM772.2 1857.01H796.6V1882.97H772.2ZM772.2 1908.94H796.6V1933.9H772.2Z" fill="#A4DAA4"/>
<path d="M1014.4 429.4H1038.6V454.9H1014.4ZM1038.6 429.4H1062.8V454.9H1038.6ZM1183.8 429.4H1208V454.9H1183.8ZM1353.2 429.4H1377.4V454.9H1353.2ZM1014.4 454.9H1038.6V480.86H1014.4ZM1183.8 454.9H1208V480.86H1183.8ZM1208 454.9H1232.2V480.86H1208ZM1232.2 454.9H1256.4V480.86H1232.2ZM1329 454.9H1353.2V480.86H1329ZM1353.2 454.9H1377.4V480.86H1353.2ZM1377.4 454.9H1401.6V480.86H1377.4ZM1474.2 454.9H1498.4V480.86H1474.2ZM1498.4 454.9H1522.6V480.86H1498.4ZM1522.6 454.9H1546.8V480.86H1522.6ZM1377.4 480.86H1401.6V506.83H1377.4ZM1401.6 480.86H1425.8V506.83H1401.6ZM1498.4 480.86H1522.6V506.83H1498.4ZM1377.4 506.83H1401.6V532.79H1377.4ZM1643.6 584.72H1667.8V610.69H1643.6ZM1667.8 740.51H1692V766.48H1667.8ZM820.8 766.48H845V792.44H820.8ZM1014.4 766.48H1038.6V792.44H1014.4ZM1329 766.48H1353.2V792.44H1329ZM1692 766.48H1716.2V792.44H1692ZM1813 766.48H1837.2V792.44H1813ZM1837.2 766.48H1861.4V792.44H1837.2ZM796.6 792.44H820.8V818.41H796.6ZM1159.6 792.44H1183.8V818.41H1159.6ZM1183.8 792.44H1208V818.41H1183.8ZM1692 792.44H1716.2V818.41H1692ZM1813 792.44H1837.2V818.41H1813ZM1837.2 792.44H1861.4V818.41H1837.2ZM1377.4 818.41H1401.6V844.37H1377.4ZM1498.4 818.41H1522.6V844.37H1498.4ZM1377.4 870.34H1401.6V896.3H1377.4ZM1643.6 922.27H1667.8V948.23H1643.6ZM1813 922.27H1837.2V948.23H1813ZM1329 948.23H1353.2V974.2H1329ZM1522.6 948.23H1546.8V974.2H1522.6ZM1692 948.23H1716.2V974.2H1692ZM1789.1 948.23H1813V974.2H1789.1ZM1353.2 974.2H1377.4V1000.16H1353.2ZM1377.4 974.2H1401.6V1000.16H1377.4ZM1837.2 974.2H1861.4V1000.16H1837.2ZM1159.6 1000.16H1183.8V1026.12H1159.6ZM1401.6 1000.16H1425.8V1026.12H1401.6ZM1450.3 1000.16H1474.2V1026.12H1450.3ZM1837.2 1000.16H1861.4V1026.12H1837.2ZM1183.8 1026.12H1208V1052.09H1183.8ZM1474.2 1026.12H1498.4V1052.09H1474.2ZM796.6 1052.09H820.8V1078.06H796.6ZM820.8 1052.09H845V1078.06H820.8ZM1305.1 1052.09H1329V1078.06H1305.1ZM1450.3 1052.09H1474.2V1078.06H1450.3ZM1619.7 1052.09H1643.6V1078.06H1619.7ZM1643.6 1052.09H1667.8V1078.06H1643.6ZM1789.1 1052.09H1813V1078.06H1789.1ZM1813 1052.09H1837.2V1078.06H1813ZM2006.6 1052.09H2030.8V1078.06H2006.6ZM2151.8 1052.09H2176V1078.06H2151.8ZM2176 1052.09H2200.2V1078.06H2176ZM1353.2 1078.06H1377.4V1104.02H1353.2ZM990.2 1104.02H1014.4V1129.99H990.2ZM1450.3 1104.02H1474.2V1129.99H1450.3ZM1813 1104.02H1837.2V1129.99H1813ZM2030.8 1104.02H2055V1129.99H2030.8ZM796.6 1129.99H820.8V1155.95H796.6ZM1353.2 1129.99H1377.4V1155.95H1353.2ZM1498.4 1129.99H1522.6V1155.95H1498.4ZM1619.7 1129.99H1643.6V1155.95H1619.7ZM1643.6 1129.99H1667.8V1155.95H1643.6ZM2151.8 1129.99H2176V1155.95H2151.8ZM2176 1129.99H2200.2V1155.95H2176ZM966 1155.95H990.2V1181.91H966ZM1111.5 1155.95H1135.4V1181.91H1111.5ZM1329 1155.95H1353.2V1181.91H1329ZM1474.2 1155.95H1498.4V1181.91H1474.2ZM1498.4 1155.95H1522.6V1181.91H1498.4ZM1861.4 1155.95H1885.6V1181.91H1861.4ZM1982.7 1155.95H2006.6V1181.91H1982.7ZM2006.6 1155.95H2030.8V1181.91H2006.6ZM1667.8 1181.91H1692V1207.88H1667.8ZM2030.8 1181.91H2055V1207.88H2030.8ZM2127.9 1181.91H2151.8V1207.88H2127.9ZM1305.1 1207.88H1329V1233.85H1305.1ZM2030.8 1207.88H2055V1233.85H2030.8ZM2127.9 1207.88H2151.8V1233.85H2127.9ZM1183.8 1233.85H1208V1259.81H1183.8ZM1353.2 1233.85H1377.4V1259.81H1353.2ZM1474.2 1233.85H1498.4V1259.81H1474.2ZM1498.4 1233.85H1522.6V1259.81H1498.4ZM1643.6 1233.85H1667.8V1259.81H1643.6ZM1813 1233.85H1837.2V1259.81H1813ZM2006.6 1233.85H2030.8V1259.81H2006.6ZM772.2 1259.81H796.6V1285.78H772.2ZM942.1 1259.81H966V1285.78H942.1ZM1450.3 1259.81H1474.2V1285.78H1450.3ZM1789.1 1259.81H1813V1285.78H1789.1ZM1183.8 1285.78H1208V1311.74H1183.8ZM1450.3 1285.78H1474.2V1311.74H1450.3ZM1667.8 1285.78H1692V1311.74H1667.8ZM1692 1285.78H1716.2V1311.74H1692ZM1813 1285.78H1837.2V1311.74H1813ZM2006.6 1285.78H2030.8V1311.74H2006.6ZM2127.9 1285.78H2151.8V1311.74H2127.9ZM2151.8 1285.78H2176V1311.74H2151.8ZM1135.4 1337.7H1159.6V1363.67H1135.4ZM1329 1337.7H1353.2V1363.67H1329ZM1450.3 1337.7H1474.2V1363.67H1450.3ZM1111.5 1363.67H1135.4V1389.64H1111.5ZM1305.1 1363.67H1329V1389.64H1305.1ZM820.8 1467.53H845V1493.5H820.8ZM1111.5 1493.5H1135.4V1519.46H1111.5ZM820.8 1519.46H845V1545.43H820.8ZM845 1545.43H869.2V1571.39H845Z" fill="#DAE4C8"/>
<path d="M893.4 429.4H917.6V454.9H893.4ZM917.6 429.4H939.1V454.9H917.6ZM1062.8 429.4H1087V454.9H1062.8ZM1208 429.4H1232.2V454.9H1208ZM1377.4 429.4H1401.6V454.9H1377.4ZM820.8 454.9H845V480.86H820.8ZM845 454.9H869.2V480.86H845ZM1038.6 454.9H1062.8V480.86H1038.6ZM1062.8 454.9H1087V480.86H1062.8ZM1087 454.9H1108.5V480.86H1087ZM1256.4 454.9H1280.6V480.86H1256.4ZM1401.6 454.9H1425.8V480.86H1401.6ZM1546.8 454.9H1571V480.86H1546.8ZM1571 454.9H1595.2V480.86H1571ZM1595.2 454.9H1616.7V480.86H1595.2ZM990.2 480.86H1014.4V506.83H990.2ZM1014.4 480.86H1038.6V506.83H1014.4ZM1159.6 480.86H1183.8V506.83H1159.6ZM1014.4 506.83H1038.6V532.79H1014.4ZM1667.8 584.72H1692V610.69H1667.8ZM845 766.48H869.2V792.44H845ZM869.2 766.48H893.4V792.44H869.2ZM1353.2 766.48H1377.4V792.44H1353.2ZM1377.4 766.48H1401.6V792.44H1377.4ZM1498.4 766.48H1522.6V792.44H1498.4ZM1522.6 766.48H1546.8V792.44H1522.6ZM820.8 792.44H845V818.41H820.8ZM845 792.44H869.2V818.41H845ZM966 792.44H990.2V818.41H966ZM990.2 792.44H1014.4V818.41H990.2ZM1014.4 792.44H1038.6V818.41H1014.4ZM1522.6 792.44H1546.8V818.41H1522.6ZM1716.2 792.44H1740.4V818.41H1716.2ZM1014.4 818.41H1038.6V844.37H1014.4ZM1159.6 818.41H1183.8V844.37H1159.6ZM1522.6 818.41H1546.8V844.37H1522.6ZM1546.8 818.41H1571V844.37H1546.8ZM1014.4 870.34H1038.6V896.3H1014.4ZM1014.4 922.27H1038.6V948.23H1014.4ZM1837.2 922.27H1861.4V948.23H1837.2ZM990.2 948.23H1014.4V974.2H990.2ZM1014.4 948.23H1038.6V974.2H1014.4ZM1546.8 948.23H1571V974.2H1546.8ZM1813 948.23H1837.2V974.2H1813ZM966 974.2H990.2V1000.16H966ZM990.2 974.2H1014.4V1000.16H990.2ZM1522.6 974.2H1546.8V1000.16H1522.6ZM1692 974.2H1716.2V1000.16H1692ZM820.8 1000.16H845V1026.12H820.8ZM966 1000.16H990.2V1026.12H966ZM990.2 1000.16H1014.4V1026.12H990.2ZM1183.8 1000.16H1208V1026.12H1183.8ZM1474.2 1000.16H1498.4V1026.12H1474.2ZM1716.2 1000.16H1740.4V1026.12H1716.2ZM820.8 1026.12H845V1052.09H820.8ZM1498.4 1026.12H1522.6V1052.09H1498.4ZM845 1052.09H869.2V1078.06H845ZM869.2 1052.09H893.4V1078.06H869.2ZM893.4 1052.09H917.6V1078.06H893.4ZM917.6 1052.09H939.1V1078.06H917.6ZM990.2 1052.09H1014.4V1078.06H990.2ZM1014.4 1052.09H1038.6V1078.06H1014.4ZM1135.4 1052.09H1159.6V1078.06H1135.4ZM1159.6 1052.09H1183.8V1078.06H1159.6ZM1329 1052.09H1353.2V1078.06H1329ZM1353.2 1052.09H1377.4V1078.06H1353.2ZM1377.4 1052.09H1401.6V1078.06H1377.4ZM1474.2 1052.09H1498.4V1078.06H1474.2ZM1498.4 1052.09H1522.6V1078.06H1498.4ZM1837.2 1052.09H1861.4V1078.06H1837.2ZM1861.4 1052.09H1885.6V1078.06H1861.4ZM2030.8 1052.09H2055V1078.06H2030.8ZM2055 1052.09H2079.2V1078.06H2055ZM2079.2 1052.09H2103.4V1078.06H2079.2ZM2103.4 1052.09H2124.9V1078.06H2103.4ZM2200.2 1052.09H2224.4V1078.06H2200.2ZM2224.4 1052.09H2248.6V1078.06H2224.4ZM2248.6 1052.09H2272.8V1078.06H2248.6ZM1014.4 1078.06H1038.6V1104.02H1014.4ZM845 1104.02H869.2V1129.99H845ZM1474.2 1104.02H1498.4V1129.99H1474.2ZM1643.6 1104.02H1667.8V1129.99H1643.6ZM1667.8 1104.02H1692V1129.99H1667.8ZM1837.2 1104.02H1861.4V1129.99H1837.2ZM1861.4 1104.02H1885.6V1129.99H1861.4ZM820.8 1129.99H845V1155.95H820.8ZM845 1129.99H869.2V1155.95H845ZM966 1129.99H990.2V1155.95H966ZM990.2 1129.99H1014.4V1155.95H990.2ZM1813 1129.99H1837.2V1155.95H1813ZM796.6 1155.95H820.8V1181.91H796.6ZM820.8 1155.95H845V1181.91H820.8ZM845 1155.95H869.2V1181.91H845ZM990.2 1155.95H1014.4V1181.91H990.2ZM1135.4 1155.95H1159.6V1181.91H1135.4ZM1159.6 1155.95H1183.8V1181.91H1159.6ZM1522.6 1155.95H1546.8V1181.91H1522.6ZM1643.6 1155.95H1667.8V1181.91H1643.6ZM1667.8 1155.95H1692V1181.91H1667.8ZM1692 1155.95H1716.2V1181.91H1692ZM1885.6 1155.95H1909.8V1181.91H1885.6ZM2030.8 1155.95H2055V1181.91H2030.8ZM2055 1155.95H2079.2V1181.91H2055ZM1692 1181.91H1716.2V1207.88H1692ZM1837.2 1181.91H1861.4V1207.88H1837.2ZM2055 1181.91H2079.2V1207.88H2055ZM2151.8 1181.91H2176V1207.88H2151.8ZM1329 1207.88H1353.2V1233.85H1329ZM796.6 1233.85H820.8V1259.81H796.6ZM990.2 1233.85H1014.4V1259.81H990.2ZM1014.4 1233.85H1038.6V1259.81H1014.4ZM1377.4 1233.85H1401.6V1259.81H1377.4ZM1522.6 1233.85H1546.8V1259.81H1522.6ZM1546.8 1233.85H1571V1259.81H1546.8ZM1667.8 1233.85H1692V1259.81H1667.8ZM1837.2 1233.85H1861.4V1259.81H1837.2ZM1861.4 1233.85H1885.6V1259.81H1861.4ZM1885.6 1233.85H1909.8V1259.81H1885.6ZM2030.8 1233.85H2055V1259.81H2030.8ZM2127.9 1233.85H2151.8V1259.81H2127.9ZM2151.8 1233.85H2176V1259.81H2151.8ZM2176 1233.85H2200.2V1259.81H2176ZM796.6 1259.81H820.8V1285.78H796.6ZM966 1259.81H990.2V1285.78H966ZM990.2 1259.81H1014.4V1285.78H990.2ZM1111.5 1259.81H1135.4V1285.78H1111.5ZM1135.4 1259.81H1159.6V1285.78H1135.4ZM1159.6 1259.81H1183.8V1285.78H1159.6ZM1183.8 1259.81H1208V1285.78H1183.8ZM1208 1259.81H1232.2V1285.78H1208ZM1232.2 1259.81H1256.4V1285.78H1232.2ZM1256.4 1259.81H1280.6V1285.78H1256.4ZM1329 1259.81H1353.2V1285.78H1329ZM1353.2 1259.81H1377.4V1285.78H1353.2ZM1377.4 1259.81H1401.6V1285.78H1377.4ZM1474.2 1259.81H1498.4V1285.78H1474.2ZM1619.7 1259.81H1643.6V1285.78H1619.7ZM1813 1259.81H1837.2V1285.78H1813ZM1982.7 1259.81H2006.6V1285.78H1982.7ZM2127.9 1259.81H2151.8V1285.78H2127.9ZM772.2 1285.78H796.6V1311.74H772.2ZM966 1285.78H990.2V1311.74H966ZM796.6 1311.74H820.8V1337.7H796.6ZM820.8 1311.74H845V1337.7H820.8ZM845 1311.74H869.2V1337.7H845ZM869.2 1311.74H893.4V1337.7H869.2ZM893.4 1311.74H917.6V1337.7H893.4ZM772.2 1337.7H796.6V1363.67H772.2ZM796.6 1337.7H820.8V1363.67H796.6ZM820.8 1337.7H845V1363.67H820.8ZM966 1337.7H990.2V1363.67H966ZM1159.6 1337.7H1183.8V1363.67H1159.6ZM1183.8 1337.7H1208V1363.67H1183.8ZM1208 1337.7H1232.2V1363.67H1208ZM1353.2 1337.7H1377.4V1363.67H1353.2ZM1377.4 1337.7H1401.6V1363.67H1377.4ZM1474.2 1337.7H1498.4V1363.67H1474.2ZM1498.4 1337.7H1522.6V1363.67H1498.4ZM1522.6 1337.7H1546.8V1363.67H1522.6ZM796.6 1363.67H820.8V1389.64H796.6ZM820.8 1363.67H845V1389.64H820.8ZM796.6 1389.64H820.8V1415.6H796.6ZM820.8 1389.64H845V1415.6H820.8ZM772.2 1415.6H796.6V1441.57H772.2ZM796.6 1415.6H820.8V1441.57H796.6ZM845 1467.53H869.2V1493.5H845ZM869.2 1467.53H893.4V1493.5H869.2ZM990.2 1467.53H1014.4V1493.5H990.2ZM1014.4 1467.53H1038.6V1493.5H1014.4ZM1038.6 1467.53H1062.8V1493.5H1038.6ZM1014.4 1493.5H1038.6V1519.46H1014.4ZM845 1519.46H869.2V1545.43H845ZM869.2 1519.46H893.4V1545.43H869.2ZM869.2 1545.43H893.4V1571.39H869.2ZM990.2 1571.39H1014.4V1597.36H990.2ZM796.6 1623.32H820.8V1649.29H796.6ZM820.8 1623.32H845V1649.29H820.8ZM820.8 1675.25H845V1701.22H820.8ZM845 1675.25H869.2V1701.22H845ZM796.6 1701.22H820.8V1727.18H796.6ZM820.8 1701.22H845V1727.18H820.8ZM845 1701.22H869.2V1727.18H845ZM772.2 1727.18H796.6V1753.14H772.2ZM942.1 1753.14H966V1779.11H942.1ZM796.6 1779.11H820.8V1805.08H796.6ZM772.2 1882.97H796.6V1908.94H772.2Z" fill="#E6B4A0"/>
<path d="M1692 740.51H1716.2V766.48H1692ZM1546.8 766.48H1571V792.44H1546.8ZM1861.4 792.44H1885.6V818.41H1861.4ZM1498.4 1000.16H1522.6V1026.12H1498.4ZM1522.6 1026.12H1546.8V1052.09H1522.6ZM1498.4 1104.02H1522.6V1129.99H1498.4ZM1885.6 1104.02H1909.8V1129.99H1885.6ZM1377.4 1129.99H1401.6V1155.95H1377.4ZM1837.2 1129.99H1861.4V1155.95H1837.2ZM2030.8 1129.99H2055V1155.95H2030.8ZM2200.2 1129.99H2224.4V1155.95H2200.2ZM1522.6 1181.91H1546.8V1207.88H1522.6ZM1861.4 1181.91H1885.6V1207.88H1861.4ZM1885.6 1181.91H1909.8V1207.88H1885.6ZM2079.2 1181.91H2103.4V1207.88H2079.2ZM1498.4 1207.88H1522.6V1233.85H1498.4ZM1861.4 1207.88H1885.6V1233.85H1861.4ZM1885.6 1207.88H1909.8V1233.85H1885.6ZM1909.8 1207.88H1934V1233.85H1909.8ZM1934 1207.88H1958.2V1233.85H1934ZM1958.2 1207.88H1979.7V1233.85H1958.2ZM2055 1207.88H2079.2V1233.85H2055ZM1038.6 1233.85H1062.8V1259.81H1038.6ZM1062.8 1233.85H1087V1259.81H1062.8ZM1692 1233.85H1716.2V1259.81H1692ZM1909.8 1233.85H1934V1259.81H1909.8ZM1934 1233.85H1958.2V1259.81H1934ZM1280.6 1259.81H1302.1V1285.78H1280.6ZM796.6 1285.78H820.8V1311.74H796.6ZM1474.2 1285.78H1498.4V1311.74H1474.2ZM1498.4 1285.78H1522.6V1311.74H1498.4ZM1716.2 1285.78H1740.4V1311.74H1716.2ZM1740.4 1285.78H1764.6V1311.74H1740.4ZM1764.6 1285.78H1786.1V1311.74H1764.6ZM1837.2 1285.78H1861.4V1311.74H1837.2ZM1861.4 1285.78H1885.6V1311.74H1861.4ZM1885.6 1285.78H1909.8V1311.74H1885.6ZM2030.8 1285.78H2055V1311.74H2030.8ZM2055 1285.78H2079.2V1311.74H2055ZM2176 1285.78H2200.2V1311.74H2176ZM942.1 1311.74H966V1337.7H942.1ZM966 1311.74H990.2V1337.7H966ZM990.2 1337.7H1014.4V1363.67H990.2ZM1232.2 1337.7H1256.4V1363.67H1232.2ZM1401.6 1337.7H1425.8V1363.67H1401.6ZM1425.8 1337.7H1447.3V1363.67H1425.8ZM1546.8 1337.7H1571V1363.67H1546.8ZM1571 1337.7H1595.2V1363.67H1571ZM1595.2 1337.7H1616.7V1363.67H1595.2ZM845 1363.67H869.2V1389.64H845ZM869.2 1363.67H893.4V1389.64H869.2ZM942.1 1363.67H966V1389.64H942.1ZM966 1363.67H990.2V1389.64H966ZM1135.4 1363.67H1159.6V1389.64H1135.4ZM1329 1363.67H1353.2V1389.64H1329ZM1135.4 1493.5H1159.6V1519.46H1135.4ZM893.4 1519.46H917.6V1545.43H893.4ZM845 1623.32H869.2V1649.29H845ZM942.1 1623.32H966V1649.29H942.1ZM820.8 1779.11H845V1805.08H820.8ZM772.2 1805.08H796.6V1831.04H772.2ZM796.6 1805.08H820.8V1831.04H796.6ZM772.2 1831.04H796.6V1857.01H772.2ZM796.6 1831.04H820.8V1857.01H796.6ZM796.6 1857.01H820.8V1882.97H796.6Z" fill="#C4C4C4"/>
<path d="M772.2 429.4H796.6V453.85H772.2ZM796.6 429.4H820.8V453.85H796.6ZM820.8 429.4H845V453.85H820.8ZM845 429.4H869.2V453.85H845ZM869.2 429.4H893.4V453.85H869.2ZM942.1 429.4H966V453.85H942.1ZM966 429.4H990.2V453.85H966ZM990.2 429.4H1014.4V453.85H990.2ZM1111.5 429.4H1135.4V453.85H1111.5ZM1135.4 429.4H1159.6V453.85H1135.4ZM1159.6 429.4H1183.8V453.85H1159.6ZM1305.1 429.4H1329V453.85H1305.1ZM1329 429.4H1353.2V453.85H1329ZM772.2 455.95H796.6V479.81H772.2ZM796.6 455.95H820.8V479.81H796.6ZM942.1 455.95H966V479.81H942.1ZM966 455.95H990.2V479.81H966ZM990.2 455.95H1014.4V479.81H990.2ZM1111.5 455.95H1135.4V479.81H1111.5ZM1135.4 455.95H1159.6V479.81H1135.4ZM1159.6 455.95H1183.8V479.81H1159.6ZM1305.1 455.95H1329V479.81H1305.1ZM1450.3 455.95H1474.2V479.81H1450.3ZM772.2 481.91H796.6V505.78H772.2ZM796.6 481.91H820.8V505.78H796.6ZM820.8 481.91H845V505.78H820.8ZM845 481.91H869.2V505.78H845ZM942.1 481.91H966V505.78H942.1ZM966 481.91H990.2V505.78H966ZM1111.5 481.91H1135.4V505.78H1111.5ZM1135.4 481.91H1159.6V505.78H1135.4ZM1305.1 481.91H1329V505.78H1305.1ZM1329 481.91H1353.2V505.78H1329ZM1353.2 481.91H1377.4V505.78H1353.2ZM1450.3 481.91H1474.2V505.78H1450.3ZM1474.2 481.91H1498.4V505.78H1474.2ZM1619.7 481.91H1643.6V505.78H1619.7ZM1643.6 481.91H1667.8V505.78H1643.6ZM1667.8 481.91H1692V505.78H1667.8ZM1692 481.91H1716.2V505.78H1692ZM772.2 507.88H796.6V531.74H772.2ZM796.6 507.88H820.8V531.74H796.6ZM820.8 507.88H845V531.74H820.8ZM845 507.88H869.2V531.74H845ZM942.1 507.88H966V531.74H942.1ZM966 507.88H990.2V531.74H966ZM990.2 507.88H1014.4V531.74H990.2ZM1111.5 507.88H1135.4V531.74H1111.5ZM1135.4 507.88H1159.6V531.74H1135.4ZM1159.6 507.88H1183.8V531.74H1159.6ZM1305.1 507.88H1329V531.74H1305.1ZM1329 507.88H1353.2V531.74H1329ZM1353.2 507.88H1377.4V531.74H1353.2ZM1450.3 507.88H1474.2V531.74H1450.3ZM1474.2 507.88H1498.4V531.74H1474.2ZM1498.4 507.88H1522.6V531.74H1498.4ZM1522.6 507.88H1546.8V531.74H1522.6ZM1619.7 507.88H1643.6V531.74H1619.7ZM1643.6 507.88H1667.8V531.74H1643.6ZM772.2 533.84H796.6V557.71H772.2ZM796.6 533.84H820.8V557.71H796.6ZM820.8 533.84H845V557.71H820.8ZM845 533.84H869.2V557.71H845ZM942.1 533.84H966V557.71H942.1ZM966 533.84H990.2V557.71H966ZM990.2 533.84H1014.4V557.71H990.2ZM1014.4 533.84H1038.6V557.71H1014.4ZM1111.5 533.84H1135.4V557.71H1111.5ZM1135.4 533.84H1159.6V557.71H1135.4ZM1159.6 533.84H1183.8V557.71H1159.6ZM1305.1 533.84H1329V557.71H1305.1ZM1329 533.84H1353.2V557.71H1329ZM1353.2 533.84H1377.4V557.71H1353.2ZM1377.4 533.84H1401.6V557.71H1377.4ZM1450.3 533.84H1474.2V557.71H1450.3ZM1474.2 533.84H1498.4V557.71H1474.2ZM1498.4 533.84H1522.6V557.71H1498.4ZM1522.6 533.84H1546.8V557.71H1522.6ZM1619.7 533.84H1643.6V557.71H1619.7ZM772.2 559.81H796.6V583.67H772.2ZM796.6 559.81H820.8V583.67H796.6ZM820.8 559.81H845V583.67H820.8ZM845 559.81H869.2V583.67H845ZM942.1 559.81H966V583.67H942.1ZM966 559.81H990.2V583.67H966ZM990.2 559.81H1014.4V583.67H990.2ZM1014.4 559.81H1038.6V583.67H1014.4ZM1111.5 559.81H1135.4V583.67H1111.5ZM1135.4 559.81H1159.6V583.67H1135.4ZM1159.6 559.81H1183.8V583.67H1159.6ZM1305.1 559.81H1329V583.67H1305.1ZM1329 559.81H1353.2V583.67H1329ZM1353.2 559.81H1377.4V583.67H1353.2ZM1377.4 559.81H1401.6V583.67H1377.4ZM1450.3 559.81H1474.2V583.67H1450.3ZM1474.2 559.81H1498.4V583.67H1474.2ZM1498.4 559.81H1522.6V583.67H1498.4ZM1522.6 559.81H1546.8V583.67H1522.6ZM1619.7 559.81H1643.6V583.67H1619.7ZM772.2 585.77H796.6V609.64H772.2ZM796.6 585.77H820.8V609.64H796.6ZM820.8 585.77H845V609.64H820.8ZM845 585.77H869.2V609.64H845ZM942.1 585.77H966V609.64H942.1ZM966 585.77H990.2V609.64H966ZM990.2 585.77H1014.4V609.64H990.2ZM1014.4 585.77H1038.6V609.64H1014.4ZM1111.5 585.77H1135.4V609.64H1111.5ZM1135.4 585.77H1159.6V609.64H1135.4ZM1159.6 585.77H1183.8V609.64H1159.6ZM1305.1 585.77H1329V609.64H1305.1ZM1329 585.77H1353.2V609.64H1329ZM1353.2 585.77H1377.4V609.64H1353.2ZM1377.4 585.77H1401.6V609.64H1377.4ZM1450.3 585.77H1474.2V609.64H1450.3ZM1474.2 585.77H1498.4V609.64H1474.2ZM1498.4 585.77H1522.6V609.64H1498.4ZM1619.7 585.77H1643.6V609.64H1619.7ZM772.2 611.74H796.6V635.6H772.2ZM796.6 611.74H820.8V635.6H796.6ZM820.8 611.74H845V635.6H820.8ZM845 611.74H869.2V635.6H845ZM942.1 611.74H966V635.6H942.1ZM966 611.74H990.2V635.6H966ZM990.2 611.74H1014.4V635.6H990.2ZM1014.4 611.74H1038.6V635.6H1014.4ZM1111.5 611.74H1135.4V635.6H1111.5ZM1135.4 611.74H1159.6V635.6H1135.4ZM1159.6 611.74H1183.8V635.6H1159.6ZM1305.1 611.74H1329V635.6H1305.1ZM1329 611.74H1353.2V635.6H1329ZM1353.2 611.74H1377.4V635.6H1353.2ZM1377.4 611.74H1401.6V635.6H1377.4ZM1450.3 611.74H1474.2V635.6H1450.3ZM772.2 637.7H796.6V661.57H772.2ZM796.6 637.7H820.8V661.57H796.6ZM820.8 637.7H845V661.57H820.8ZM845 637.7H869.2V661.57H845ZM942.1 637.7H966V661.57H942.1ZM966 637.7H990.2V661.57H966ZM990.2 637.7H1014.4V661.57H990.2ZM1014.4 637.7H1038.6V661.57H1014.4ZM1111.5 637.7H1135.4V661.57H1111.5ZM1135.4 637.7H1159.6V661.57H1135.4ZM1159.6 637.7H1183.8V661.57H1159.6ZM1305.1 637.7H1329V661.57H1305.1ZM1329 637.7H1353.2V661.57H1329ZM1353.2 637.7H1377.4V661.57H1353.2ZM1450.3 637.7H1474.2V661.57H1450.3ZM1474.2 637.7H1498.4V661.57H1474.2ZM1498.4 637.7H1522.6V661.57H1498.4ZM1522.6 637.7H1546.8V661.57H1522.6ZM1619.7 637.7H1643.6V661.57H1619.7ZM1643.6 637.7H1667.8V661.57H1643.6ZM772.2 663.66H796.6V687.53H772.2ZM796.6 663.66H820.8V687.53H796.6ZM820.8 663.66H845V687.53H820.8ZM845 663.66H869.2V687.53H845ZM942.1 663.66H966V687.53H942.1ZM966 663.66H990.2V687.53H966ZM990.2 663.66H1014.4V687.53H990.2ZM1014.4 663.66H1038.6V687.53H1014.4ZM1111.5 663.66H1135.4V687.53H1111.5ZM1135.4 663.66H1159.6V687.53H1135.4ZM1159.6 663.66H1183.8V687.53H1159.6ZM1305.1 663.66H1329V687.53H1305.1ZM1329 663.66H1353.2V687.53H1329ZM1353.2 663.66H1377.4V687.53H1353.2ZM1450.3 663.66H1474.2V687.53H1450.3ZM1474.2 663.66H1498.4V687.53H1474.2ZM1498.4 663.66H1522.6V687.53H1498.4ZM1522.6 663.66H1546.8V687.53H1522.6ZM1619.7 663.66H1643.6V687.53H1619.7ZM1643.6 663.66H1667.8V687.53H1643.6ZM772.2 689.63H796.6V713.5H772.2ZM796.6 689.63H820.8V713.5H796.6ZM820.8 689.63H845V713.5H820.8ZM845 689.63H869.2V713.5H845ZM942.1 689.63H966V713.5H942.1ZM966 689.63H990.2V713.5H966ZM990.2 689.63H1014.4V713.5H990.2ZM1014.4 689.63H1038.6V713.5H1014.4ZM1111.5 689.63H1135.4V713.5H1111.5ZM1135.4 689.63H1159.6V713.5H1135.4ZM1159.6 689.63H1183.8V713.5H1159.6ZM1305.1 689.63H1329V713.5H1305.1ZM1329 689.63H1353.2V713.5H1329ZM1353.2 689.63H1377.4V713.5H1353.2ZM1619.7 689.63H1643.6V713.5H1619.7ZM1643.6 689.63H1667.8V713.5H1643.6ZM772.2 715.6H796.6V739.46H772.2ZM796.6 715.6H820.8V739.46H796.6ZM820.8 715.6H845V739.46H820.8ZM845 715.6H869.2V739.46H845ZM942.1 715.6H966V739.46H942.1ZM966 715.6H990.2V739.46H966ZM990.2 715.6H1014.4V739.46H990.2ZM1111.5 715.6H1135.4V739.46H1111.5ZM1135.4 715.6H1159.6V739.46H1135.4ZM1159.6 715.6H1183.8V739.46H1159.6ZM1305.1 715.6H1329V739.46H1305.1ZM1329 715.6H1353.2V739.46H1329ZM1353.2 715.6H1377.4V739.46H1353.2ZM1377.4 715.6H1401.6V739.46H1377.4ZM1450.3 715.6H1474.2V739.46H1450.3ZM1619.7 715.6H1643.6V739.46H1619.7ZM772.2 741.56H796.6V765.43H772.2ZM796.6 741.56H820.8V765.43H796.6ZM820.8 741.56H845V765.43H820.8ZM845 741.56H869.2V765.43H845ZM942.1 741.56H966V765.43H942.1ZM966 741.56H990.2V765.43H966ZM1111.5 741.56H1135.4V765.43H1111.5ZM1135.4 741.56H1159.6V765.43H1135.4ZM1305.1 741.56H1329V765.43H1305.1ZM1329 741.56H1353.2V765.43H1329ZM1353.2 741.56H1377.4V765.43H1353.2ZM1377.4 741.56H1401.6V765.43H1377.4ZM1450.3 741.56H1474.2V765.43H1450.3ZM1474.2 741.56H1498.4V765.43H1474.2ZM1498.4 741.56H1522.6V765.43H1498.4ZM1522.6 741.56H1546.8V765.43H1522.6ZM1546.8 741.56H1571V765.43H1546.8ZM1619.7 741.56H1643.6V765.43H1619.7ZM1643.6 741.56H1667.8V765.43H1643.6ZM772.2 767.53H796.6V791.39H772.2ZM796.6 767.53H820.8V791.39H796.6ZM942.1 767.53H966V791.39H942.1ZM966 767.53H990.2V791.39H966ZM990.2 767.53H1014.4V791.39H990.2ZM1111.5 767.53H1135.4V791.39H1111.5ZM1135.4 767.53H1159.6V791.39H1135.4ZM1305.1 767.53H1329V791.39H1305.1ZM1450.3 767.53H1474.2V791.39H1450.3ZM1474.2 767.53H1498.4V791.39H1474.2ZM1619.7 767.53H1643.6V791.39H1619.7ZM1643.6 767.53H1667.8V791.39H1643.6ZM1667.8 767.53H1692V791.39H1667.8ZM1789.1 767.53H1813V791.39H1789.1ZM772.2 793.49H796.6V817.36H772.2ZM942.1 793.49H966V817.36H942.1ZM1111.5 793.49H1135.4V817.36H1111.5ZM1135.4 793.49H1159.6V817.36H1135.4ZM1305.1 793.49H1329V817.36H1305.1ZM1329 793.49H1353.2V817.36H1329ZM1353.2 793.49H1377.4V817.36H1353.2ZM1450.3 793.49H1474.2V817.36H1450.3ZM1474.2 793.49H1498.4V817.36H1474.2ZM1498.4 793.49H1522.6V817.36H1498.4ZM1619.7 793.49H1643.6V817.36H1619.7ZM1643.6 793.49H1667.8V817.36H1643.6ZM1667.8 793.49H1692V817.36H1667.8ZM1789.1 793.49H1813V817.36H1789.1ZM772.2 819.46H796.6V843.32H772.2ZM796.6 819.46H820.8V843.32H796.6ZM820.8 819.46H845V843.32H820.8ZM845 819.46H869.2V843.32H845ZM942.1 819.46H966V843.32H942.1ZM966 819.46H990.2V843.32H966ZM990.2 819.46H1014.4V843.32H990.2ZM1111.5 819.46H1135.4V843.32H1111.5ZM1135.4 819.46H1159.6V843.32H1135.4ZM1305.1 819.46H1329V843.32H1305.1ZM1329 819.46H1353.2V843.32H1329ZM1353.2 819.46H1377.4V843.32H1353.2ZM1450.3 819.46H1474.2V843.32H1450.3ZM1474.2 819.46H1498.4V843.32H1474.2ZM1619.7 819.46H1643.6V843.32H1619.7ZM1643.6 819.46H1667.8V843.32H1643.6ZM1667.8 819.46H1692V843.32H1667.8ZM1789.1 819.46H1813V843.32H1789.1ZM772.2 845.42H796.6V869.29H772.2ZM796.6 845.42H820.8V869.29H796.6ZM820.8 845.42H845V869.29H820.8ZM845 845.42H869.2V869.29H845ZM942.1 845.42H966V869.29H942.1ZM966 845.42H990.2V869.29H966ZM990.2 845.42H1014.4V869.29H990.2ZM1014.4 845.42H1038.6V869.29H1014.4ZM1111.5 845.42H1135.4V869.29H1111.5ZM1135.4 845.42H1159.6V869.29H1135.4ZM1159.6 845.42H1183.8V869.29H1159.6ZM1305.1 845.42H1329V869.29H1305.1ZM1329 845.42H1353.2V869.29H1329ZM1353.2 845.42H1377.4V869.29H1353.2ZM1619.7 845.42H1643.6V869.29H1619.7ZM772.2 871.38H796.6V895.25H772.2ZM796.6 871.38H820.8V895.25H796.6ZM820.8 871.38H845V895.25H820.8ZM845 871.38H869.2V895.25H845ZM942.1 871.38H966V895.25H942.1ZM966 871.38H990.2V895.25H966ZM990.2 871.38H1014.4V895.25H990.2ZM1111.5 871.38H1135.4V895.25H1111.5ZM1135.4 871.38H1159.6V895.25H1135.4ZM1305.1 871.38H1329V895.25H1305.1ZM1329 871.38H1353.2V895.25H1329ZM1353.2 871.38H1377.4V895.25H1353.2ZM1450.3 871.38H1474.2V895.25H1450.3ZM1474.2 871.38H1498.4V895.25H1474.2ZM1498.4 871.38H1522.6V895.25H1498.4ZM1522.6 871.38H1546.8V895.25H1522.6ZM1619.7 871.38H1643.6V895.25H1619.7ZM1643.6 871.38H1667.8V895.25H1643.6ZM1667.8 871.38H1692V895.25H1667.8ZM772.2 897.35H796.6V921.22H772.2ZM796.6 897.35H820.8V921.22H796.6ZM820.8 897.35H845V921.22H820.8ZM942.1 897.35H966V921.22H942.1ZM966 897.35H990.2V921.22H966ZM990.2 897.35H1014.4V921.22H990.2ZM1014.4 897.35H1038.6V921.22H1014.4ZM1111.5 897.35H1135.4V921.22H1111.5ZM1135.4 897.35H1159.6V921.22H1135.4ZM1305.1 897.35H1329V921.22H1305.1ZM1329 897.35H1353.2V921.22H1329ZM1353.2 897.35H1377.4V921.22H1353.2ZM1450.3 897.35H1474.2V921.22H1450.3ZM1474.2 897.35H1498.4V921.22H1474.2ZM1498.4 897.35H1522.6V921.22H1498.4ZM1619.7 897.35H1643.6V921.22H1619.7ZM1643.6 897.35H1667.8V921.22H1643.6ZM1667.8 897.35H1692V921.22H1667.8ZM1789.1 897.35H1813V921.22H1789.1ZM1813 897.35H1837.2V921.22H1813ZM772.2 923.32H796.6V947.18H772.2ZM796.6 923.32H820.8V947.18H796.6ZM820.8 923.32H845V947.18H820.8ZM845 923.32H869.2V947.18H845ZM942.1 923.32H966V947.18H942.1ZM966 923.32H990.2V947.18H966ZM990.2 923.32H1014.4V947.18H990.2ZM1111.5 923.32H1135.4V947.18H1111.5ZM1135.4 923.32H1159.6V947.18H1135.4ZM1159.6 923.32H1183.8V947.18H1159.6ZM1305.1 923.32H1329V947.18H1305.1ZM1329 923.32H1353.2V947.18H1329ZM1353.2 923.32H1377.4V947.18H1353.2ZM1619.7 923.32H1643.6V947.18H1619.7ZM1789.1 923.32H1813V947.18H1789.1ZM772.2 949.28H796.6V973.15H772.2ZM796.6 949.28H820.8V973.15H796.6ZM820.8 949.28H845V973.15H820.8ZM845 949.28H869.2V973.15H845ZM942.1 949.28H966V973.15H942.1ZM966 949.28H990.2V973.15H966ZM1111.5 949.28H1135.4V973.15H1111.5ZM1135.4 949.28H1159.6V973.15H1135.4ZM1305.1 949.28H1329V973.15H1305.1ZM1450.3 949.28H1474.2V973.15H1450.3ZM1474.2 949.28H1498.4V973.15H1474.2ZM1498.4 949.28H1522.6V973.15H1498.4ZM1619.7 949.28H1643.6V973.15H1619.7ZM1643.6 949.28H1667.8V973.15H1643.6ZM1667.8 949.28H1692V973.15H1667.8ZM1982.7 949.28H2006.6V973.15H1982.7ZM772.2 975.25H796.6V999.11H772.2ZM796.6 975.25H820.8V999.11H796.6ZM820.8 975.25H845V999.11H820.8ZM845 975.25H869.2V999.11H845ZM942.1 975.25H966V999.11H942.1ZM1111.5 975.25H1135.4V999.11H1111.5ZM1135.4 975.25H1159.6V999.11H1135.4ZM1305.1 975.25H1329V999.11H1305.1ZM1329 975.25H1353.2V999.11H1329ZM1450.3 975.25H1474.2V999.11H1450.3ZM1474.2 975.25H1498.4V999.11H1474.2ZM1498.4 975.25H1522.6V999.11H1498.4ZM1619.7 975.25H1643.6V999.11H1619.7ZM1643.6 975.25H1667.8V999.11H1643.6ZM1667.8 975.25H1692V999.11H1667.8ZM1789.1 975.25H1813V999.11H1789.1ZM1813 975.25H1837.2V999.11H1813ZM772.2 1001.21H796.6V1025.08H772.2ZM796.6 1001.21H820.8V1025.08H796.6ZM942.1 1001.21H966V1025.08H942.1ZM1111.5 1001.21H1135.4V1025.08H1111.5ZM1135.4 1001.21H1159.6V1025.08H1135.4ZM1305.1 1001.21H1329V1025.08H1305.1ZM1329 1001.21H1353.2V1025.08H1329ZM1353.2 1001.21H1377.4V1025.08H1353.2ZM1377.4 1001.21H1401.6V1025.08H1377.4ZM1619.7 1001.21H1643.6V1025.08H1619.7ZM1643.6 1001.21H1667.8V1025.08H1643.6ZM1667.8 1001.21H1692V1025.08H1667.8ZM1692 1001.21H1716.2V1025.08H1692ZM1789.1 1001.21H1813V1025.08H1789.1ZM1813 1001.21H1837.2V1025.08H1813ZM1982.7 1001.21H2006.6V1025.08H1982.7ZM772.2 1027.17H796.6V1051.04H772.2ZM796.6 1027.17H820.8V1051.04H796.6ZM942.1 1027.17H966V1051.04H942.1ZM966 1027.17H990.2V1051.04H966ZM990.2 1027.17H1014.4V1051.04H990.2ZM1111.5 1027.17H1135.4V1051.04H1111.5ZM1135.4 1027.17H1159.6V1051.04H1135.4ZM1159.6 1027.17H1183.8V1051.04H1159.6ZM1305.1 1027.17H1329V1051.04H1305.1ZM1329 1027.17H1353.2V1051.04H1329ZM1353.2 1027.17H1377.4V1051.04H1353.2ZM1377.4 1027.17H1401.6V1051.04H1377.4ZM1450.3 1027.17H1474.2V1051.04H1450.3ZM1619.7 1027.17H1643.6V1051.04H1619.7ZM1643.6 1027.17H1667.8V1051.04H1643.6ZM772.2 1053.14H796.6V1077.01H772.2ZM942.1 1053.14H966V1077.01H942.1ZM966 1053.14H990.2V1077.01H966ZM1111.5 1053.14H1135.4V1077.01H1111.5ZM1982.7 1053.14H2006.6V1077.01H1982.7ZM2127.9 1053.14H2151.8V1077.01H2127.9ZM772.2 1079.11H796.6V1102.97H772.2ZM796.6 1079.11H820.8V1102.97H796.6ZM820.8 1079.11H845V1102.97H820.8ZM845 1079.11H869.2V1102.97H845ZM942.1 1079.11H966V1102.97H942.1ZM966 1079.11H990.2V1102.97H966ZM990.2 1079.11H1014.4V1102.97H990.2ZM1111.5 1079.11H1135.4V1102.97H1111.5ZM1135.4 1079.11H1159.6V1102.97H1135.4ZM1159.6 1079.11H1183.8V1102.97H1159.6ZM1305.1 1079.11H1329V1102.97H1305.1ZM1329 1079.11H1353.2V1102.97H1329ZM1789.1 1079.11H1813V1102.97H1789.1ZM1813 1079.11H1837.2V1102.97H1813ZM772.2 1105.07H796.6V1128.94H772.2ZM796.6 1105.07H820.8V1128.94H796.6ZM820.8 1105.07H845V1128.94H820.8ZM942.1 1105.07H966V1128.94H942.1ZM966 1105.07H990.2V1128.94H966ZM1111.5 1105.07H1135.4V1128.94H1111.5ZM1135.4 1105.07H1159.6V1128.94H1135.4ZM1159.6 1105.07H1183.8V1128.94H1159.6ZM1305.1 1105.07H1329V1128.94H1305.1ZM1329 1105.07H1353.2V1128.94H1329ZM1353.2 1105.07H1377.4V1128.94H1353.2ZM1377.4 1105.07H1401.6V1128.94H1377.4ZM1619.7 1105.07H1643.6V1128.94H1619.7ZM1789.1 1105.07H1813V1128.94H1789.1ZM1982.7 1105.07H2006.6V1128.94H1982.7ZM2006.6 1105.07H2030.8V1128.94H2006.6ZM772.2 1131.04H796.6V1154.9H772.2ZM942.1 1131.04H966V1154.9H942.1ZM1111.5 1131.04H1135.4V1154.9H1111.5ZM1135.4 1131.04H1159.6V1154.9H1135.4ZM1159.6 1131.04H1183.8V1154.9H1159.6ZM1305.1 1131.04H1329V1154.9H1305.1ZM1329 1131.04H1353.2V1154.9H1329ZM1450.3 1131.04H1474.2V1154.9H1450.3ZM1474.2 1131.04H1498.4V1154.9H1474.2ZM1789.1 1131.04H1813V1154.9H1789.1ZM1982.7 1131.04H2006.6V1154.9H1982.7ZM2006.6 1131.04H2030.8V1154.9H2006.6ZM2127.9 1131.04H2151.8V1154.9H2127.9ZM772.2 1157H796.6V1180.87H772.2ZM942.1 1157H966V1180.87H942.1ZM1305.1 1157H1329V1180.87H1305.1ZM1450.3 1157H1474.2V1180.87H1450.3ZM1619.7 1157H1643.6V1180.87H1619.7ZM1789.1 1157H1813V1180.87H1789.1ZM1813 1157H1837.2V1180.87H1813ZM1837.2 1157H1861.4V1180.87H1837.2ZM2127.9 1157H2151.8V1180.87H2127.9ZM2151.8 1157H2176V1180.87H2151.8ZM2176 1157H2200.2V1180.87H2176ZM772.2 1182.96H796.6V1206.83H772.2ZM796.6 1182.96H820.8V1206.83H796.6ZM820.8 1182.96H845V1206.83H820.8ZM942.1 1182.96H966V1206.83H942.1ZM966 1182.96H990.2V1206.83H966ZM1111.5 1182.96H1135.4V1206.83H1111.5ZM1305.1 1182.96H1329V1206.83H1305.1ZM1329 1182.96H1353.2V1206.83H1329ZM1450.3 1182.96H1474.2V1206.83H1450.3ZM1474.2 1182.96H1498.4V1206.83H1474.2ZM1498.4 1182.96H1522.6V1206.83H1498.4ZM1619.7 1182.96H1643.6V1206.83H1619.7ZM1643.6 1182.96H1667.8V1206.83H1643.6ZM1789.1 1182.96H1813V1206.83H1789.1ZM1813 1182.96H1837.2V1206.83H1813ZM1982.7 1182.96H2006.6V1206.83H1982.7ZM2006.6 1182.96H2030.8V1206.83H2006.6ZM772.2 1208.93H796.6V1232.8H772.2ZM796.6 1208.93H820.8V1232.8H796.6ZM820.8 1208.93H845V1232.8H820.8ZM942.1 1208.93H966V1232.8H942.1ZM966 1208.93H990.2V1232.8H966ZM1111.5 1208.93H1135.4V1232.8H1111.5ZM1450.3 1208.93H1474.2V1232.8H1450.3ZM1474.2 1208.93H1498.4V1232.8H1474.2ZM1619.7 1208.93H1643.6V1232.8H1619.7ZM1643.6 1208.93H1667.8V1232.8H1643.6ZM1667.8 1208.93H1692V1232.8H1667.8ZM1692 1208.93H1716.2V1232.8H1692ZM1789.1 1208.93H1813V1232.8H1789.1ZM1813 1208.93H1837.2V1232.8H1813ZM1837.2 1208.93H1861.4V1232.8H1837.2ZM1982.7 1208.93H2006.6V1232.8H1982.7ZM2006.6 1208.93H2030.8V1232.8H2006.6ZM772.2 1234.9H796.6V1258.76H772.2ZM942.1 1234.9H966V1258.76H942.1ZM966 1234.9H990.2V1258.76H966ZM1111.5 1234.9H1135.4V1258.76H1111.5ZM1135.4 1234.9H1159.6V1258.76H1135.4ZM1159.6 1234.9H1183.8V1258.76H1159.6ZM1305.1 1234.9H1329V1258.76H1305.1ZM1329 1234.9H1353.2V1258.76H1329ZM1450.3 1234.9H1474.2V1258.76H1450.3ZM1619.7 1234.9H1643.6V1258.76H1619.7ZM1789.1 1234.9H1813V1258.76H1789.1ZM1982.7 1234.9H2006.6V1258.76H1982.7ZM1305.1 1260.86H1329V1284.73H1305.1ZM942.1 1286.83H966V1310.69H942.1ZM1111.5 1286.83H1135.4V1310.69H1111.5ZM1135.4 1286.83H1159.6V1310.69H1135.4ZM1159.6 1286.83H1183.8V1310.69H1159.6ZM1305.1 1286.83H1329V1310.69H1305.1ZM1619.7 1286.83H1643.6V1310.69H1619.7ZM1643.6 1286.83H1667.8V1310.69H1643.6ZM1789.1 1286.83H1813V1310.69H1789.1ZM1982.7 1286.83H2006.6V1310.69H1982.7ZM772.2 1312.79H796.6V1336.65H772.2ZM942.1 1338.75H966V1362.62H942.1ZM1111.5 1338.75H1135.4V1362.62H1111.5ZM1305.1 1338.75H1329V1362.62H1305.1ZM772.2 1364.72H796.6V1388.59H772.2ZM772.2 1390.69H796.6V1414.55H772.2ZM1111.5 1416.65H1135.4V1440.52H1111.5ZM1305.1 1416.65H1329V1440.52H1305.1ZM772.2 1468.58H796.6V1492.45H772.2ZM796.6 1468.58H820.8V1492.45H796.6ZM942.1 1468.58H966V1492.45H942.1ZM966 1468.58H990.2V1492.45H966ZM772.2 1494.55H796.6V1518.41H772.2ZM796.6 1494.55H820.8V1518.41H796.6ZM820.8 1494.55H845V1518.41H820.8ZM942.1 1494.55H966V1518.41H942.1ZM966 1494.55H990.2V1518.41H966ZM990.2 1494.55H1014.4V1518.41H990.2ZM772.2 1520.51H796.6V1544.38H772.2ZM796.6 1520.51H820.8V1544.38H796.6ZM772.2 1546.48H796.6V1570.34H772.2ZM796.6 1546.48H820.8V1570.34H796.6ZM820.8 1546.48H845V1570.34H820.8ZM942.1 1546.48H966V1570.34H942.1ZM772.2 1572.44H796.6V1596.31H772.2ZM796.6 1572.44H820.8V1596.31H796.6ZM820.8 1572.44H845V1596.31H820.8ZM845 1572.44H869.2V1596.31H845ZM942.1 1572.44H966V1596.31H942.1ZM966 1572.44H990.2V1596.31H966ZM772.2 1598.4H796.6V1622.27H772.2ZM796.6 1598.4H820.8V1622.27H796.6ZM820.8 1598.4H845V1622.27H820.8ZM845 1598.4H869.2V1622.27H845ZM942.1 1598.4H966V1622.27H942.1ZM966 1598.4H990.2V1622.27H966ZM772.2 1624.37H796.6V1648.24H772.2ZM772.2 1650.34H796.6V1674.2H772.2ZM796.6 1650.34H820.8V1674.2H796.6ZM820.8 1650.34H845V1674.2H820.8ZM845 1650.34H869.2V1674.2H845ZM772.2 1676.3H796.6V1700.17H772.2ZM796.6 1676.3H820.8V1700.17H796.6ZM772.2 1702.27H796.6V1726.13H772.2ZM772.2 1780.16H796.6V1804.03H772.2ZM772.2 1858.06H796.6V1881.92H772.2ZM772.2 1909.99H796.6V1933.9H772.2Z" fill="#90EE90"/>
<path d="M1014.4 429.4H1038.6V453.85H1014.4ZM1038.6 429.4H1062.8V453.85H1038.6ZM1183.8 429.4H1208V453.85H1183.8ZM1353.2 429.4H1377.4V453.85H1353.2ZM1014.4 455.95H1038.6V479.81H1014.4ZM1183.8 455.95H1208V479.81H1183.8ZM1208 455.95H1232.2V479.81H1208ZM1232.2 455.95H1256.4V479.81H1232.2ZM1329 455.95H1353.2V479.81H1329ZM1353.2 455.95H1377.4V479.81H1353.2ZM1377.4 455.95H1401.6V479.81H1377.4ZM1474.2 455.95H1498.4V479.81H1474.2ZM1498.4 455.95H1522.6V479.81H1498.4ZM1522.6 455.95H1546.8V479.81H1522.6ZM1377.4 481.91H1401.6V505.78H1377.4ZM1401.6 481.91H1425.8V505.78H1401.6ZM1498.4 481.91H1522.6V505.78H1498.4ZM1377.4 507.88H1401.6V531.74H1377.4ZM1643.6 585.77H1667.8V609.64H1643.6ZM1667.8 741.56H1692V765.43H1667.8ZM820.8 767.53H845V791.39H820.8ZM1014.4 767.53H1038.6V791.39H1014.4ZM1329 767.53H1353.2V791.39H1329ZM1692 767.53H1716.2V791.39H1692ZM1813 767.53H1837.2V791.39H1813ZM1837.2 767.53H1861.4V791.39H1837.2ZM796.6 793.49H820.8V817.36H796.6ZM1159.6 793.49H1183.8V817.36H1159.6ZM1183.8 793.49H1208V817.36H1183.8ZM1692 793.49H1716.2V817.36H1692ZM1813 793.49H1837.2V817.36H1813ZM1837.2 793.49H1861.4V817.36H1837.2ZM1377.4 819.46H1401.6V843.32H1377.4ZM1498.4 819.46H1522.6V843.32H1498.4ZM1377.4 871.38H1401.6V895.25H1377.4ZM1643.6 923.32H1667.8V947.18H1643.6ZM1813 923.32H1837.2V947.18H1813ZM1329 949.28H1353.2V973.15H1329ZM1522.6 949.28H1546.8V973.15H1522.6ZM1692 949.28H1716.2V973.15H1692ZM1789.1 949.28H1813V973.15H1789.1ZM1353.2 975.25H1377.4V999.11H1353.2ZM1377.4 975.25H1401.6V999.11H1377.4ZM1837.2 975.25H1861.4V999.11H1837.2ZM1159.6 1001.21H1183.8V1025.08H1159.6ZM1401.6 1001.21H1425.8V1025.08H1401.6ZM1450.3 1001.21H1474.2V1025.08H1450.3ZM1837.2 1001.21H1861.4V1025.08H1837.2ZM1183.8 1027.17H1208V1051.04H1183.8ZM1474.2 1027.17H1498.4V1051.04H1474.2ZM796.6 1053.14H820.8V1077.01H796.6ZM820.8 1053.14H845V1077.01H820.8ZM1305.1 1053.14H1329V1077.01H1305.1ZM1450.3 1053.14H1474.2V1077.01H1450.3ZM1619.7 1053.14H1643.6V1077.01H1619.7ZM1643.6 1053.14H1667.8V1077.01H1643.6ZM1789.1 1053.14H1813V1077.01H1789.1ZM1813 1053.14H1837.2V1077.01H1813ZM2006.6 1053.14H2030.8V1077.01H2006.6ZM2151.8 1053.14H2176V1077.01H2151.8ZM2176 1053.14H2200.2V1077.01H2176ZM1353.2 1079.11H1377.4V1102.97H1353.2ZM990.2 1105.07H1014.4V1128.94H990.2ZM1450.3 1105.07H1474.2V1128.94H1450.3ZM1813 1105.07H1837.2V1128.94H1813ZM2030.8 1105.07H2055V1128.94H2030.8ZM796.6 1131.04H820.8V1154.9H796.6ZM1353.2 1131.04H1377.4V1154.9H1353.2ZM1498.4 1131.04H1522.6V1154.9H1498.4ZM1619.7 1131.04H1643.6V1154.9H1619.7ZM1643.6 1131.04H1667.8V1154.9H1643.6ZM2151.8 1131.04H2176V1154.9H2151.8ZM2176 1131.04H2200.2V1154.9H2176ZM966 1157H990.2V1180.87H966ZM1111.5 1157H1135.4V1180.87H1111.5ZM1329 1157H1353.2V1180.87H1329ZM1474.2 1157H1498.4V1180.87H1474.2ZM1498.4 1157H1522.6V1180.87H1498.4ZM1861.4 1157H1885.6V1180.87H1861.4ZM1982.7 1157H2006.6V1180.87H1982.7ZM2006.6 1157H2030.8V1180.87H2006.6ZM1667.8 1182.96H1692V1206.83H1667.8ZM2030.8 1182.96H2055V1206.83H2030.8ZM2127.9 1182.96H2151.8V1206.83H2127.9ZM1305.1 1208.93H1329V1232.8H1305.1ZM2030.8 1208.93H2055V1232.8H2030.8ZM2127.9 1208.93H2151.8V1232.8H2127.9ZM1183.8 1234.9H1208V1258.76H1183.8ZM1353.2 1234.9H1377.4V1258.76H1353.2ZM1474.2 1234.9H1498.4V1258.76H1474.2ZM1498.4 1234.9H1522.6V1258.76H1498.4ZM1643.6 1234.9H1667.8V1258.76H1643.6ZM1813 1234.9H1837.2V1258.76H1813ZM2006.6 1234.9H2030.8V1258.76H2006.6ZM772.2 1260.86H796.6V1284.73H772.2ZM942.1 1260.86H966V1284.73H942.1ZM1450.3 1260.86H1474.2V1284.73H1450.3ZM1789.1 1260.86H1813V1284.73H1789.1ZM1183.8 1286.83H1208V1310.69H1183.8ZM1450.3 1286.83H1474.2V1310.69H1450.3ZM1667.8 1286.83H1692V1310.69H1667.8ZM1692 1286.83H1716.2V1310.69H1692ZM1813 1286.83H1837.2V1310.69H1813ZM2006.6 1286.83H2030.8V1310.69H2006.6ZM2127.9 1286.83H2151.8V1310.69H2127.9ZM2151.8 1286.83H2176V1310.69H2151.8ZM1135.4 1338.75H1159.6V1362.62H1135.4ZM1329 1338.75H1353.2V1362.62H1329ZM1450.3 1338.75H1474.2V1362.62H1450.3ZM1111.5 1364.72H1135.4V1388.59H1111.5ZM1305.1 1364.72H1329V1388.59H1305.1ZM820.8 1468.58H845V1492.45H820.8ZM1111.5 1494.55H1135.4V1518.41H1111.5ZM820.8 1520.51H845V1544.38H820.8ZM845 1546.48H869.2V1570.34H845Z" fill="#E2F0C4"/>
<path d="M893.4 429.4H917.6V453.85H893.4ZM917.6 429.4H939.1V453.85H917.6ZM1062.8 429.4H1087V453.85H1062.8ZM1208 429.4H1232.2V453.85H1208ZM1377.4 429.4H1401.6V453.85H1377.4ZM820.8 455.95H845V479.81H820.8ZM845 455.95H869.2V479.81H845ZM1038.6 455.95H1062.8V479.81H1038.6ZM1062.8 455.95H1087V479.81H1062.8ZM1087 455.95H1108.5V479.81H1087ZM1256.4 455.95H1280.6V479.81H1256.4ZM1401.6 455.95H1425.8V479.81H1401.6ZM1546.8 455.95H1571V479.81H1546.8ZM1571 455.95H1595.2V479.81H1571ZM1595.2 455.95H1616.7V479.81H1595.2ZM990.2 481.91H1014.4V505.78H990.2ZM1014.4 481.91H1038.6V505.78H1014.4ZM1159.6 481.91H1183.8V505.78H1159.6ZM1014.4 507.88H1038.6V531.74H1014.4ZM1667.8 585.77H1692V609.64H1667.8ZM845 767.53H869.2V791.39H845ZM869.2 767.53H893.4V791.39H869.2ZM1353.2 767.53H1377.4V791.39H1353.2ZM1377.4 767.53H1401.6V791.39H1377.4ZM1498.4 767.53H1522.6V791.39H1498.4ZM1522.6 767.53H1546.8V791.39H1522.6ZM820.8 793.49H845V817.36H820.8ZM845 793.49H869.2V817.36H845ZM966 793.49H990.2V817.36H966ZM990.2 793.49H1014.4V817.36H990.2ZM1014.4 793.49H1038.6V817.36H1014.4ZM1522.6 793.49H1546.8V817.36H1522.6ZM1716.2 793.49H1740.4V817.36H1716.2ZM1014.4 819.46H1038.6V843.32H1014.4ZM1159.6 819.46H1183.8V843.32H1159.6ZM1522.6 819.46H1546.8V843.32H1522.6ZM1546.8 819.46H1571V843.32H1546.8ZM1014.4 871.38H1038.6V895.25H1014.4ZM1014.4 923.32H1038.6V947.18H1014.4ZM1837.2 923.32H1861.4V947.18H1837.2ZM990.2 949.28H1014.4V973.15H990.2ZM1014.4 949.28H1038.6V973.15H1014.4ZM1546.8 949.28H1571V973.15H1546.8ZM1813 949.28H1837.2V973.15H1813ZM966 975.25H990.2V999.11H966ZM990.2 975.25H1014.4V999.11H990.2ZM1522.6 975.25H1546.8V999.11H1522.6ZM1692 975.25H1716.2V999.11H1692ZM820.8 1001.21H845V1025.08H820.8ZM966 1001.21H990.2V1025.08H966ZM990.2 1001.21H1014.4V1025.08H990.2ZM1183.8 1001.21H1208V1025.08H1183.8ZM1474.2 1001.21H1498.4V1025.08H1474.2ZM1716.2 1001.21H1740.4V1025.08H1716.2ZM820.8 1027.17H845V1051.04H820.8ZM1498.4 1027.17H1522.6V1051.04H1498.4ZM845 1053.14H869.2V1077.01H845ZM869.2 1053.14H893.4V1077.01H869.2ZM893.4 1053.14H917.6V1077.01H893.4ZM917.6 1053.14H939.1V1077.01H917.6ZM990.2 1053.14H1014.4V1077.01H990.2ZM1014.4 1053.14H1038.6V1077.01H1014.4ZM1135.4 1053.14H1159.6V1077.01H1135.4ZM1159.6 1053.14H1183.8V1077.01H1159.6ZM1329 1053.14H1353.2V1077.01H1329ZM1353.2 1053.14H1377.4V1077.01H1353.2ZM1377.4 1053.14H1401.6V1077.01H1377.4ZM1474.2 1053.14H1498.4V1077.01H1474.2ZM1498.4 1053.14H1522.6V1077.01H1498.4ZM1837.2 1053.14H1861.4V1077.01H1837.2ZM1861.4 1053.14H1885.6V1077.01H1861.4ZM2030.8 1053.14H2055V1077.01H2030.8ZM2055 1053.14H2079.2V1077.01H2055ZM2079.2 1053.14H2103.4V1077.01H2079.2ZM2103.4 1053.14H2124.9V1077.01H2103.4ZM2200.2 1053.14H2224.4V1077.01H2200.2ZM2224.4 1053.14H2248.6V1077.01H2224.4ZM2248.6 1053.14H2272.8V1077.01H2248.6ZM1014.4 1079.11H1038.6V1102.97H1014.4ZM845 1105.07H869.2V1128.94H845ZM1474.2 1105.07H1498.4V1128.94H1474.2ZM1643.6 1105.07H1667.8V1128.94H1643.6ZM1667.8 1105.07H1692V1128.94H1667.8ZM1837.2 1105.07H1861.4V1128.94H1837.2ZM1861.4 1105.07H1885.6V1128.94H1861.4ZM820.8 1131.04H845V1154.9H820.8ZM845 1131.04H869.2V1154.9H845ZM966 1131.04H990.2V1154.9H966ZM990.2 1131.04H1014.4V1154.9H990.2ZM1813 1131.04H1837.2V1154.9H1813ZM796.6 1157H820.8V1180.87H796.6ZM820.8 1157H845V1180.87H820.8ZM845 1157H869.2V1180.87H845ZM990.2 1157H1014.4V1180.87H990.2ZM1135.4 1157H1159.6V1180.87H1135.4ZM1159.6 1157H1183.8V1180.87H1159.6ZM1522.6 1157H1546.8V1180.87H1522.6ZM1643.6 1157H1667.8V1180.87H1643.6ZM1667.8 1157H1692V1180.87H1667.8ZM1692 1157H1716.2V1180.87H1692ZM1885.6 1157H1909.8V1180.87H1885.6ZM2030.8 1157H2055V1180.87H2030.8ZM2055 1157H2079.2V1180.87H2055ZM1692 1182.96H1716.2V1206.83H1692ZM1837.2 1182.96H1861.4V1206.83H1837.2ZM2055 1182.96H2079.2V1206.83H2055ZM2151.8 1182.96H2176V1206.83H2151.8ZM1329 1208.93H1353.2V1232.8H1329ZM796.6 1234.9H820.8V1258.76H796.6ZM990.2 1234.9H1014.4V1258.76H990.2ZM1014.4 1234.9H1038.6V1258.76H1014.4ZM1377.4 1234.9H1401.6V1258.76H1377.4ZM1522.6 1234.9H1546.8V1258.76H1522.6ZM1546.8 1234.9H1571V1258.76H1546.8ZM1667.8 1234.9H1692V1258.76H1667.8ZM1837.2 1234.9H1861.4V1258.76H1837.2ZM1861.4 1234.9H1885.6V1258.76H1861.4ZM1885.6 1234.9H1909.8V1258.76H1885.6ZM2030.8 1234.9H2055V1258.76H2030.8ZM2127.9 1234.9H2151.8V1258.76H2127.9ZM2151.8 1234.9H2176V1258.76H2151.8ZM2176 1234.9H2200.2V1258.76H2176ZM796.6 1260.86H820.8V1284.73H796.6ZM966 1260.86H990.2V1284.73H966ZM990.2 1260.86H1014.4V1284.73H990.2ZM1111.5 1260.86H1135.4V1284.73H1111.5ZM1135.4 1260.86H1159.6V1284.73H1135.4ZM1159.6 1260.86H1183.8V1284.73H1159.6ZM1183.8 1260.86H1208V1284.73H1183.8ZM1208 1260.86H1232.2V1284.73H1208ZM1232.2 1260.86H1256.4V1284.73H1232.2ZM1256.4 1260.86H1280.6V1284.73H1256.4ZM1329 1260.86H1353.2V1284.73H1329ZM1353.2 1260.86H1377.4V1284.73H1353.2ZM1377.4 1260.86H1401.6V1284.73H1377.4ZM1474.2 1260.86H1498.4V1284.73H1474.2ZM1619.7 1260.86H1643.6V1284.73H1619.7ZM1813 1260.86H1837.2V1284.73H1813ZM1982.7 1260.86H2006.6V1284.73H1982.7ZM2127.9 1260.86H2151.8V1284.73H2127.9ZM772.2 1286.83H796.6V1310.69H772.2ZM966 1286.83H990.2V1310.69H966ZM796.6 1312.79H820.8V1336.65H796.6ZM820.8 1312.79H845V1336.65H820.8ZM845 1312.79H869.2V1336.65H845ZM869.2 1312.79H893.4V1336.65H869.2ZM893.4 1312.79H917.6V1336.65H893.4ZM772.2 1338.75H796.6V1362.62H772.2ZM796.6 1338.75H820.8V1362.62H796.6ZM820.8 1338.75H845V1362.62H820.8ZM966 1338.75H990.2V1362.62H966ZM1159.6 1338.75H1183.8V1362.62H1159.6ZM1183.8 1338.75H1208V1362.62H1183.8ZM1208 1338.75H1232.2V1362.62H1208ZM1353.2 1338.75H1377.4V1362.62H1353.2ZM1377.4 1338.75H1401.6V1362.62H1377.4ZM1474.2 1338.75H1498.4V1362.62H1474.2ZM1498.4 1338.75H1522.6V1362.62H1498.4ZM1522.6 1338.75H1546.8V1362.62H1522.6ZM796.6 1364.72H820.8V1388.59H796.6ZM820.8 1364.72H845V1388.59H820.8ZM796.6 1390.69H820.8V1414.55H796.6ZM820.8 1390.69H845V1414.55H820.8ZM772.2 1416.65H796.6V1440.52H772.2ZM796.6 1416.65H820.8V1440.52H796.6ZM845 1468.58H869.2V1492.45H845ZM869.2 1468.58H893.4V1492.45H869.2ZM990.2 1468.58H1014.4V1492.45H990.2ZM1014.4 1468.58H1038.6V1492.45H1014.4ZM1038.6 1468.58H1062.8V1492.45H1038.6ZM1014.4 1494.55H1038.6V1518.41H1014.4ZM845 1520.51H869.2V1544.38H845ZM869.2 1520.51H893.4V1544.38H869.2ZM869.2 1546.48H893.4V1570.34H869.2ZM990.2 1572.44H1014.4V1596.31H990.2ZM796.6 1624.37H820.8V1648.24H796.6ZM820.8 1624.37H845V1648.24H820.8ZM820.8 1676.3H845V1700.17H820.8ZM845 1676.3H869.2V1700.17H845ZM796.6 1702.27H820.8V1726.13H796.6ZM820.8 1702.27H845V1726.13H820.8ZM845 1702.27H869.2V1726.13H845ZM772.2 1728.23H796.6V1752.1H772.2ZM942.1 1754.19H966V1778.06H942.1ZM796.6 1780.16H820.8V1804.03H796.6ZM772.2 1884.02H796.6V1907.89H772.2Z" fill="#FFAE88"/>
<path d="M1692 741.56H1716.2V765.43H1692ZM1546.8 767.53H1571V791.39H1546.8ZM1861.4 793.49H1885.6V817.36H1861.4ZM1498.4 1001.21H1522.6V1025.08H1498.4ZM1522.6 1027.17H1546.8V1051.04H1522.6ZM1498.4 1105.07H1522.6V1128.94H1498.4ZM1885.6 1105.07H1909.8V1128.94H1885.6ZM1377.4 1131.04H1401.6V1154.9H1377.4ZM1837.2 1131.04H1861.4V1154.9H1837.2ZM2030.8 1131.04H2055V1154.9H2030.8ZM2200.2 1131.04H2224.4V1154.9H2200.2ZM1522.6 1182.96H1546.8V1206.83H1522.6ZM1861.4 1182.96H1885.6V1206.83H1861.4ZM1885.6 1182.96H1909.8V1206.83H1885.6ZM2079.2 1182.96H2103.4V1206.83H2079.2ZM1498.4 1208.93H1522.6V1232.8H1498.4ZM1861.4 1208.93H1885.6V1232.8H1861.4ZM1885.6 1208.93H1909.8V1232.8H1885.6ZM1909.8 1208.93H1934V1232.8H1909.8ZM1934 1208.93H1958.2V1232.8H1934ZM1958.2 1208.93H1979.7V1232.8H1958.2ZM2055 1208.93H2079.2V1232.8H2055ZM1038.6 1234.9H1062.8V1258.76H1038.6ZM1062.8 1234.9H1087V1258.76H1062.8ZM1692 1234.9H1716.2V1258.76H1692ZM1909.8 1234.9H1934V1258.76H1909.8ZM1934 1234.9H1958.2V1258.76H1934ZM1280.6 1260.86H1302.1V1284.73H1280.6ZM796.6 1286.83H820.8V1310.69H796.6ZM1474.2 1286.83H1498.4V1310.69H1474.2ZM1498.4 1286.83H1522.6V1310.69H1498.4ZM1716.2 1286.83H1740.4V1310.69H1716.2ZM1740.4 1286.83H1764.6V1310.69H1740.4ZM1764.6 1286.83H1786.1V1310.69H1764.6ZM1837.2 1286.83H1861.4V1310.69H1837.2ZM1861.4 1286.83H1885.6V1310.69H1861.4ZM1885.6 1286.83H1909.8V1310.69H1885.6ZM2030.8 1286.83H2055V1310.69H2030.8ZM2055 1286.83H2079.2V1310.69H2055ZM2176 1286.83H2200.2V1310.69H2176ZM942.1 1312.79H966V1336.65H942.1ZM966 1312.79H990.2V1336.65H966ZM990.2 1338.75H1014.4V1362.62H990.2ZM1232.2 1338.75H1256.4V1362.62H1232.2ZM1401.6 1338.75H1425.8V1362.62H1401.6ZM1425.8 1338.75H1447.3V1362.62H1425.8ZM1546.8 1338.75H1571V1362.62H1546.8ZM1571 1338.75H1595.2V1362.62H1571ZM1595.2 1338.75H1616.7V1362.62H1595.2ZM845 1364.72H869.2V1388.59H845ZM869.2 1364.72H893.4V1388.59H869.2ZM942.1 1364.72H966V1388.59H942.1ZM966 1364.72H990.2V1388.59H966ZM1135.4 1364.72H1159.6V1388.59H1135.4ZM1329 1364.72H1353.2V1388.59H1329ZM1135.4 1494.55H1159.6V1518.41H1135.4ZM893.4 1520.51H917.6V1544.38H893.4ZM845 1624.37H869.2V1648.24H845ZM942.1 1624.37H966V1648.24H942.1ZM820.8 1780.16H845V1804.03H820.8ZM772.2 1806.12H796.6V1829.99H772.2ZM796.6 1806.12H820.8V1829.99H796.6ZM772.2 1832.09H796.6V1855.96H772.2ZM796.6 1832.09H820.8V1855.96H796.6ZM796.6 1858.06H820.8V1881.92H796.6Z" fill="#C8C8C8"/>
<path d="M772.2 429.4H796V453.85H772.2ZM797.2 429.4H820.2V453.85H797.2ZM821.4 429.4H844.4V453.85H821.4ZM845.6 429.4H868.6V453.85H845.6ZM869.8 429.4H892.8V453.85H869.8ZM942.1 429.4H965.4V453.85H942.1ZM966.6 429.4H989.6V453.85H966.6ZM990.8 429.4H1013.8V453.85H990.8ZM1111.5 429.4H1134.8V453.85H1111.5ZM1136 429.4H1159V453.85H1136ZM1160.2 429.4H1183.2V453.85H1160.2ZM1305.1 429.4H1328.4V453.85H1305.1ZM1329.6 429.4H1352.6V453.85H1329.6ZM772.2 455.95H796V479.81H772.2ZM797.2 455.95H820.2V479.81H797.2ZM942.1 455.95H965.4V479.81H942.1ZM966.6 455.95H989.6V479.81H966.6ZM990.8 455.95H1013.8V479.81H990.8ZM1111.5 455.95H1134.8V479.81H1111.5ZM1136 455.95H1159V479.81H1136ZM1160.2 455.95H1183.2V479.81H1160.2ZM1305.1 455.95H1328.4V479.81H1305.1ZM1450.3 455.95H1473.6V479.81H1450.3ZM772.2 481.91H796V505.78H772.2ZM797.2 481.91H820.2V505.78H797.2ZM821.4 481.91H844.4V505.78H821.4ZM845.6 481.91H868.6V505.78H845.6ZM942.1 481.91H965.4V505.78H942.1ZM966.6 481.91H989.6V505.78H966.6ZM1111.5 481.91H1134.8V505.78H1111.5ZM1136 481.91H1159V505.78H1136ZM1305.1 481.91H1328.4V505.78H1305.1ZM1329.6 481.91H1352.6V505.78H1329.6ZM1353.8 481.91H1376.8V505.78H1353.8ZM1450.3 481.91H1473.6V505.78H1450.3ZM1474.8 481.91H1497.8V505.78H1474.8ZM1619.7 481.91H1643V505.78H1619.7ZM1644.2 481.91H1667.2V505.78H1644.2ZM1668.4 481.91H1691.4V505.78H1668.4ZM1692.6 481.91H1715.6V505.78H1692.6ZM772.2 507.88H796V531.74H772.2ZM797.2 507.88H820.2V531.74H797.2ZM821.4 507.88H844.4V531.74H821.4ZM845.6 507.88H868.6V531.74H845.6ZM942.1 507.88H965.4V531.74H942.1ZM966.6 507.88H989.6V531.74H966.6ZM990.8 507.88H1013.8V531.74H990.8ZM1111.5 507.88H1134.8V531.74H1111.5ZM1136 507.88H1159V531.74H1136ZM1160.2 507.88H1183.2V531.74H1160.2ZM1305.1 507.88H1328.4V531.74H1305.1ZM1329.6 507.88H1352.6V531.74H1329.6ZM1353.8 507.88H1376.8V531.74H1353.8ZM1450.3 507.88H1473.6V531.74H1450.3ZM1474.8 507.88H1497.8V531.74H1474.8ZM1499 507.88H1522V531.74H1499ZM1523.2 507.88H1546.2V531.74H1523.2ZM1619.7 507.88H1643V531.74H1619.7ZM1644.2 507.88H1667.2V531.74H1644.2ZM772.2 533.84H796V557.71H772.2ZM797.2 533.84H820.2V557.71H797.2ZM821.4 533.84H844.4V557.71H821.4ZM845.6 533.84H868.6V557.71H845.6ZM942.1 533.84H965.4V557.71H942.1ZM966.6 533.84H989.6V557.71H966.6ZM990.8 533.84H1013.8V557.71H990.8ZM1015 533.84H1038V557.71H1015ZM1111.5 533.84H1134.8V557.71H1111.5ZM1136 533.84H1159V557.71H1136ZM1160.2 533.84H1183.2V557.71H1160.2ZM1305.1 533.84H1328.4V557.71H1305.1ZM1329.6 533.84H1352.6V557.71H1329.6ZM1353.8 533.84H1376.8V557.71H1353.8ZM1378 533.84H1401V557.71H1378ZM1450.3 533.84H1473.6V557.71H1450.3ZM1474.8 533.84H1497.8V557.71H1474.8ZM1499 533.84H1522V557.71H1499ZM1523.2 533.84H1546.2V557.71H1523.2ZM1619.7 533.84H1643V557.71H1619.7ZM772.2 559.81H796V583.67H772.2ZM797.2 559.81H820.2V583.67H797.2ZM821.4 559.81H844.4V583.67H821.4ZM845.6 559.81H868.6V583.67H845.6ZM942.1 559.81H965.4V583.67H942.1ZM966.6 559.81H989.6V583.67H966.6ZM990.8 559.81H1013.8V583.67H990.8ZM1015 559.81H1038V583.67H1015ZM1111.5 559.81H1134.8V583.67H1111.5ZM1136 559.81H1159V583.67H1136ZM1160.2 559.81H1183.2V583.67H1160.2ZM1305.1 559.81H1328.4V583.67H1305.1ZM1329.6 559.81H1352.6V583.67H1329.6ZM1353.8 559.81H1376.8V583.67H1353.8ZM1378 559.81H1401V583.67H1378ZM1450.3 559.81H1473.6V583.67H1450.3ZM1474.8 559.81H1497.8V583.67H1474.8ZM1499 559.81H1522V583.67H1499ZM1523.2 559.81H1546.2V583.67H1523.2ZM1619.7 559.81H1643V583.67H1619.7ZM772.2 585.77H796V609.64H772.2ZM797.2 585.77H820.2V609.64H797.2ZM821.4 585.77H844.4V609.64H821.4ZM845.6 585.77H868.6V609.64H845.6ZM942.1 585.77H965.4V609.64H942.1ZM966.6 585.77H989.6V609.64H966.6ZM990.8 585.77H1013.8V609.64H990.8ZM1015 585.77H1038V609.64H1015ZM1111.5 585.77H1134.8V609.64H1111.5ZM1136 585.77H1159V609.64H1136ZM1160.2 585.77H1183.2V609.64H1160.2ZM1305.1 585.77H1328.4V609.64H1305.1ZM1329.6 585.77H1352.6V609.64H1329.6ZM1353.8 585.77H1376.8V609.64H1353.8ZM1378 585.77H1401V609.64H1378ZM1450.3 585.77H1473.6V609.64H1450.3ZM1474.8 585.77H1497.8V609.64H1474.8ZM1499 585.77H1522V609.64H1499ZM1619.7 585.77H1643V609.64H1619.7ZM772.2 611.74H796V635.6H772.2ZM797.2 611.74H820.2V635.6H797.2ZM821.4 611.74H844.4V635.6H821.4ZM845.6 611.74H868.6V635.6H845.6ZM942.1 611.74H965.4V635.6H942.1ZM966.6 611.74H989.6V635.6H966.6ZM990.8 611.74H1013.8V635.6H990.8ZM1015 611.74H1038V635.6H1015ZM1111.5 611.74H1134.8V635.6H1111.5ZM1136 611.74H1159V635.6H1136ZM1160.2 611.74H1183.2V635.6H1160.2ZM1305.1 611.74H1328.4V635.6H1305.1ZM1329.6 611.74H1352.6V635.6H1329.6ZM1353.8 611.74H1376.8V635.6H1353.8ZM1378 611.74H1401V635.6H1378ZM1450.3 611.74H1473.6V635.6H1450.3ZM772.2 637.7H796V661.57H772.2ZM797.2 637.7H820.2V661.57H797.2ZM821.4 637.7H844.4V661.57H821.4ZM845.6 637.7H868.6V661.57H845.6ZM942.1 637.7H965.4V661.57H942.1ZM966.6 637.7H989.6V661.57H966.6ZM990.8 637.7H1013.8V661.57H990.8ZM1015 637.7H1038V661.57H1015ZM1111.5 637.7H1134.8V661.57H1111.5ZM1136 637.7H1159V661.57H1136ZM1160.2 637.7H1183.2V661.57H1160.2ZM1305.1 637.7H1328.4V661.57H1305.1ZM1329.6 637.7H1352.6V661.57H1329.6ZM1353.8 637.7H1376.8V661.57H1353.8ZM1450.3 637.7H1473.6V661.57H1450.3ZM1474.8 637.7H1497.8V661.57H1474.8ZM1499 637.7H1522V661.57H1499ZM1523.2 637.7H1546.2V661.57H1523.2ZM1619.7 637.7H1643V661.57H1619.7ZM1644.2 637.7H1667.2V661.57H1644.2ZM772.2 663.66H796V687.53H772.2ZM797.2 663.66H820.2V687.53H797.2ZM821.4 663.66H844.4V687.53H821.4ZM845.6 663.66H868.6V687.53H845.6ZM942.1 663.66H965.4V687.53H942.1ZM966.6 663.66H989.6V687.53H966.6ZM990.8 663.66H1013.8V687.53H990.8ZM1015 663.66H1038V687.53H1015ZM1111.5 663.66H1134.8V687.53H1111.5ZM1136 663.66H1159V687.53H1136ZM1160.2 663.66H1183.2V687.53H1160.2ZM1305.1 663.66H1328.4V687.53H1305.1ZM1329.6 663.66H1352.6V687.53H1329.6ZM1353.8 663.66H1376.8V687.53H1353.8ZM1450.3 663.66H1473.6V687.53H1450.3ZM1474.8 663.66H1497.8V687.53H1474.8ZM1499 663.66H1522V687.53H1499ZM1523.2 663.66H1546.2V687.53H1523.2ZM1619.7 663.66H1643V687.53H1619.7ZM1644.2 663.66H1667.2V687.53H1644.2ZM772.2 689.63H796V713.5H772.2ZM797.2 689.63H820.2V713.5H797.2ZM821.4 689.63H844.4V713.5H821.4ZM845.6 689.63H868.6V713.5H845.6ZM942.1 689.63H965.4V713.5H942.1ZM966.6 689.63H989.6V713.5H966.6ZM990.8 689.63H1013.8V713.5H990.8ZM1015 689.63H1038V713.5H1015ZM1111.5 689.63H1134.8V713.5H1111.5ZM1136 689.63H1159V713.5H1136ZM1160.2 689.63H1183.2V713.5H1160.2ZM1305.1 689.63H1328.4V713.5H1305.1ZM1329.6 689.63H1352.6V713.5H1329.6ZM1353.8 689.63H1376.8V713.5H1353.8ZM1619.7 689.63H1643V713.5H1619.7ZM1644.2 689.63H1667.2V713.5H1644.2ZM772.2 715.6H796V739.46H772.2ZM797.2 715.6H820.2V739.46H797.2ZM821.4 715.6H844.4V739.46H821.4ZM845.6 715.6H868.6V739.46H845.6ZM942.1 715.6H965.4V739.46H942.1ZM966.6 715.6H989.6V739.46H966.6ZM990.8 715.6H1013.8V739.46H990.8ZM1111.5 715.6H1134.8V739.46H1111.5ZM1136 715.6H1159V739.46H1136ZM1160.2 715.6H1183.2V739.46H1160.2ZM1305.1 715.6H1328.4V739.46H1305.1ZM1329.6 715.6H1352.6V739.46H1329.6ZM1353.8 715.6H1376.8V739.46H1353.8ZM1378 715.6H1401V739.46H1378ZM1450.3 715.6H1473.6V739.46H1450.3ZM1619.7 715.6H1643V739.46H1619.7ZM772.2 741.56H796V765.43H772.2ZM797.2 741.56H820.2V765.43H797.2ZM821.4 741.56H844.4V765.43H821.4ZM845.6 741.56H868.6V765.43H845.6ZM942.1 741.56H965.4V765.43H942.1ZM966.6 741.56H989.6V765.43H966.6ZM1111.5 741.56H1134.8V765.43H1111.5ZM1136 741.56H1159V765.43H1136ZM1305.1 741.56H1328.4V765.43H1305.1ZM1329.6 741.56H1352.6V765.43H1329.6ZM1353.8 741.56H1376.8V765.43H1353.8ZM1378 741.56H1401V765.43H1378ZM1450.3 741.56H1473.6V765.43H1450.3ZM1474.8 741.56H1497.8V765.43H1474.8ZM1499 741.56H1522V765.43H1499ZM1523.2 741.56H1546.2V765.43H1523.2ZM1547.4 741.56H1570.4V765.43H1547.4ZM1619.7 741.56H1643V765.43H1619.7ZM1644.2 741.56H1667.2V765.43H1644.2ZM772.2 767.53H796V791.39H772.2ZM797.2 767.53H820.2V791.39H797.2ZM942.1 767.53H965.4V791.39H942.1ZM966.6 767.53H989.6V791.39H966.6ZM990.8 767.53H1013.8V791.39H990.8ZM1111.5 767.53H1134.8V791.39H1111.5ZM1136 767.53H1159V791.39H1136ZM1305.1 767.53H1328.4V791.39H1305.1ZM1450.3 767.53H1473.6V791.39H1450.3ZM1474.8 767.53H1497.8V791.39H1474.8ZM1619.7 767.53H1643V791.39H1619.7ZM1644.2 767.53H1667.2V791.39H1644.2ZM1668.4 767.53H1691.4V791.39H1668.4ZM1789.1 767.53H1812.4V791.39H1789.1ZM772.2 793.49H796V817.36H772.2ZM942.1 793.49H965.4V817.36H942.1ZM1111.5 793.49H1134.8V817.36H1111.5ZM1136 793.49H1159V817.36H1136ZM1305.1 793.49H1328.4V817.36H1305.1ZM1329.6 793.49H1352.6V817.36H1329.6ZM1353.8 793.49H1376.8V817.36H1353.8ZM1450.3 793.49H1473.6V817.36H1450.3ZM1474.8 793.49H1497.8V817.36H1474.8ZM1499 793.49H1522V817.36H1499ZM1619.7 793.49H1643V817.36H1619.7ZM1644.2 793.49H1667.2V817.36H1644.2ZM1668.4 793.49H1691.4V817.36H1668.4ZM1789.1 793.49H1812.4V817.36H1789.1ZM772.2 819.46H796V843.32H772.2ZM797.2 819.46H820.2V843.32H797.2ZM821.4 819.46H844.4V843.32H821.4ZM845.6 819.46H868.6V843.32H845.6ZM942.1 819.46H965.4V843.32H942.1ZM966.6 819.46H989.6V843.32H966.6ZM990.8 819.46H1013.8V843.32H990.8ZM1111.5 819.46H1134.8V843.32H1111.5ZM1136 819.46H1159V843.32H1136ZM1305.1 819.46H1328.4V843.32H1305.1ZM1329.6 819.46H1352.6V843.32H1329.6ZM1353.8 819.46H1376.8V843.32H1353.8ZM1450.3 819.46H1473.6V843.32H1450.3ZM1474.8 819.46H1497.8V843.32H1474.8ZM1619.7 819.46H1643V843.32H1619.7ZM1644.2 819.46H1667.2V843.32H1644.2ZM1668.4 819.46H1691.4V843.32H1668.4ZM1789.1 819.46H1812.4V843.32H1789.1ZM772.2 845.42H796V869.29H772.2ZM797.2 845.42H820.2V869.29H797.2ZM821.4 845.42H844.4V869.29H821.4ZM845.6 845.42H868.6V869.29H845.6ZM942.1 845.42H965.4V869.29H942.1ZM966.6 845.42H989.6V869.29H966.6ZM990.8 845.42H1013.8V869.29H990.8ZM1015 845.42H1038V869.29H1015ZM1111.5 845.42H1134.8V869.29H1111.5ZM1136 845.42H1159V869.29H1136ZM1160.2 845.42H1183.2V869.29H1160.2ZM1305.1 845.42H1328.4V869.29H1305.1ZM1329.6 845.42H1352.6V869.29H1329.6ZM1353.8 845.42H1376.8V869.29H1353.8ZM1619.7 845.42H1643V869.29H1619.7ZM772.2 871.38H796V895.25H772.2ZM797.2 871.38H820.2V895.25H797.2ZM821.4 871.38H844.4V895.25H821.4ZM845.6 871.38H868.6V895.25H845.6ZM942.1 871.38H965.4V895.25H942.1ZM966.6 871.38H989.6V895.25H966.6ZM990.8 871.38H1013.8V895.25H990.8ZM1111.5 871.38H1134.8V895.25H1111.5ZM1136 871.38H1159V895.25H1136ZM1305.1 871.38H1328.4V895.25H1305.1ZM1329.6 871.38H1352.6V895.25H1329.6ZM1353.8 871.38H1376.8V895.25H1353.8ZM1450.3 871.38H1473.6V895.25H1450.3ZM1474.8 871.38H1497.8V895.25H1474.8ZM1499 871.38H1522V895.25H1499ZM1523.2 871.38H1546.2V895.25H1523.2ZM1619.7 871.38H1643V895.25H1619.7ZM1644.2 871.38H1667.2V895.25H1644.2ZM1668.4 871.38H1691.4V895.25H1668.4ZM772.2 897.35H796V921.22H772.2ZM797.2 897.35H820.2V921.22H797.2ZM821.4 897.35H844.4V921.22H821.4ZM942.1 897.35H965.4V921.22H942.1ZM966.6 897.35H989.6V921.22H966.6ZM990.8 897.35H1013.8V921.22H990.8ZM1015 897.35H1038V921.22H1015ZM1111.5 897.35H1134.8V921.22H1111.5ZM1136 897.35H1159V921.22H1136ZM1305.1 897.35H1328.4V921.22H1305.1ZM1329.6 897.35H1352.6V921.22H1329.6ZM1353.8 897.35H1376.8V921.22H1353.8ZM1450.3 897.35H1473.6V921.22H1450.3ZM1474.8 897.35H1497.8V921.22H1474.8ZM1499 897.35H1522V921.22H1499ZM1619.7 897.35H1643V921.22H1619.7ZM1644.2 897.35H1667.2V921.22H1644.2ZM1668.4 897.35H1691.4V921.22H1668.4ZM1789.1 897.35H1812.4V921.22H1789.1ZM1813.6 897.35H1836.6V921.22H1813.6ZM772.2 923.32H796V947.18H772.2ZM797.2 923.32H820.2V947.18H797.2ZM821.4 923.32H844.4V947.18H821.4ZM845.6 923.32H868.6V947.18H845.6ZM942.1 923.32H965.4V947.18H942.1ZM966.6 923.32H989.6V947.18H966.6ZM990.8 923.32H1013.8V947.18H990.8ZM1111.5 923.32H1134.8V947.18H1111.5ZM1136 923.32H1159V947.18H1136ZM1160.2 923.32H1183.2V947.18H1160.2ZM1305.1 923.32H1328.4V947.18H1305.1ZM1329.6 923.32H1352.6V947.18H1329.6ZM1353.8 923.32H1376.8V947.18H1353.8ZM1619.7 923.32H1643V947.18H1619.7ZM1789.1 923.32H1812.4V947.18H1789.1ZM772.2 949.28H796V973.15H772.2ZM797.2 949.28H820.2V973.15H797.2ZM821.4 949.28H844.4V973.15H821.4ZM845.6 949.28H868.6V973.15H845.6ZM942.1 949.28H965.4V973.15H942.1ZM966.6 949.28H989.6V973.15H966.6ZM1111.5 949.28H1134.8V973.15H1111.5ZM1136 949.28H1159V973.15H1136ZM1305.1 949.28H1328.4V973.15H1305.1ZM1450.3 949.28H1473.6V973.15H1450.3ZM1474.8 949.28H1497.8V973.15H1474.8ZM1499 949.28H1522V973.15H1499ZM1619.7 949.28H1643V973.15H1619.7ZM1644.2 949.28H1667.2V973.15H1644.2ZM1668.4 949.28H1691.4V973.15H1668.4ZM1982.7 949.28H2006V973.15H1982.7ZM772.2 975.25H796V999.11H772.2ZM797.2 975.25H820.2V999.11H797.2ZM821.4 975.25H844.4V999.11H821.4ZM845.6 975.25H868.6V999.11H845.6ZM942.1 975.25H965.4V999.11H942.1ZM1111.5 975.25H1134.8V999.11H1111.5ZM1136 975.25H1159V999.11H1136ZM1305.1 975.25H1328.4V999.11H1305.1ZM1329.6 975.25H1352.6V999.11H1329.6ZM1450.3 975.25H1473.6V999.11H1450.3ZM1474.8 975.25H1497.8V999.11H1474.8ZM1499 975.25H1522V999.11H1499ZM1619.7 975.25H1643V999.11H1619.7ZM1644.2 975.25H1667.2V999.11H1644.2ZM1668.4 975.25H1691.4V999.11H1668.4ZM1789.1 975.25H1812.4V999.11H1789.1ZM1813.6 975.25H1836.6V999.11H1813.6ZM772.2 1001.21H796V1025.08H772.2ZM797.2 1001.21H820.2V1025.08H797.2ZM942.1 1001.21H965.4V1025.08H942.1ZM1111.5 1001.21H1134.8V1025.08H1111.5ZM1136 1001.21H1159V1025.08H1136ZM1305.1 1001.21H1328.4V1025.08H1305.1ZM1329.6 1001.21H1352.6V1025.08H1329.6ZM1353.8 1001.21H1376.8V1025.08H1353.8ZM1378 1001.21H1401V1025.08H1378ZM1619.7 1001.21H1643V1025.08H1619.7ZM1644.2 1001.21H1667.2V1025.08H1644.2ZM1668.4 1001.21H1691.4V1025.08H1668.4ZM1692.6 1001.21H1715.6V1025.08H1692.6ZM1789.1 1001.21H1812.4V1025.08H1789.1ZM1813.6 1001.21H1836.6V1025.08H1813.6ZM1982.7 1001.21H2006V1025.08H1982.7ZM772.2 1027.17H796V1051.04H772.2ZM797.2 1027.17H820.2V1051.04H797.2ZM942.1 1027.17H965.4V1051.04H942.1ZM966.6 1027.17H989.6V1051.04H966.6ZM990.8 1027.17H1013.8V1051.04H990.8ZM1111.5 1027.17H1134.8V1051.04H1111.5ZM1136 1027.17H1159V1051.04H1136ZM1160.2 1027.17H1183.2V1051.04H1160.2ZM1305.1 1027.17H1328.4V1051.04H1305.1ZM1329.6 1027.17H1352.6V1051.04H1329.6ZM1353.8 1027.17H1376.8V1051.04H1353.8ZM1378 1027.17H1401V1051.04H1378ZM1450.3 1027.17H1473.6V1051.04H1450.3ZM1619.7 1027.17H1643V1051.04H1619.7ZM1644.2 1027.17H1667.2V1051.04H1644.2ZM772.2 1053.14H796V1077.01H772.2ZM942.1 1053.14H965.4V1077.01H942.1ZM966.6 1053.14H989.6V1077.01H966.6ZM1111.5 1053.14H1134.8V1077.01H1111.5ZM1982.7 1053.14H2006V1077.01H1982.7ZM2127.9 1053.14H2151.2V1077.01H2127.9ZM772.2 1079.11H796V1102.97H772.2ZM797.2 1079.11H820.2V1102.97H797.2ZM821.4 1079.11H844.4V1102.97H821.4ZM845.6 1079.11H868.6V1102.97H845.6ZM942.1 1079.11H965.4V1102.97H942.1ZM966.6 1079.11H989.6V1102.97H966.6ZM990.8 1079.11H1013.8V1102.97H990.8ZM1111.5 1079.11H1134.8V1102.97H1111.5ZM1136 1079.11H1159V1102.97H1136ZM1160.2 1079.11H1183.2V1102.97H1160.2ZM1305.1 1079.11H1328.4V1102.97H1305.1ZM1329.6 1079.11H1352.6V1102.97H1329.6ZM1789.1 1079.11H1812.4V1102.97H1789.1ZM1813.6 1079.11H1836.6V1102.97H1813.6ZM772.2 1105.07H796V1128.94H772.2ZM797.2 1105.07H820.2V1128.94H797.2ZM821.4 1105.07H844.4V1128.94H821.4ZM942.1 1105.07H965.4V1128.94H942.1ZM966.6 1105.07H989.6V1128.94H966.6ZM1111.5 1105.07H1134.8V1128.94H1111.5ZM1136 1105.07H1159V1128.94H1136ZM1160.2 1105.07H1183.2V1128.94H1160.2ZM1305.1 1105.07H1328.4V1128.94H1305.1ZM1329.6 1105.07H1352.6V1128.94H1329.6ZM1353.8 1105.07H1376.8V1128.94H1353.8ZM1378 1105.07H1401V1128.94H1378ZM1619.7 1105.07H1643V1128.94H1619.7ZM1789.1 1105.07H1812.4V1128.94H1789.1ZM1982.7 1105.07H2006V1128.94H1982.7ZM2007.2 1105.07H2030.2V1128.94H2007.2ZM772.2 1131.04H796V1154.9H772.2ZM942.1 1131.04H965.4V1154.9H942.1ZM1111.5 1131.04H1134.8V1154.9H1111.5ZM1136 1131.04H1159V1154.9H1136ZM1160.2 1131.04H1183.2V1154.9H1160.2ZM1305.1 1131.04H1328.4V1154.9H1305.1ZM1329.6 1131.04H1352.6V1154.9H1329.6ZM1450.3 1131.04H1473.6V1154.9H1450.3ZM1474.8 1131.04H1497.8V1154.9H1474.8ZM1789.1 1131.04H1812.4V1154.9H1789.1ZM1982.7 1131.04H2006V1154.9H1982.7ZM2007.2 1131.04H2030.2V1154.9H2007.2ZM2127.9 1131.04H2151.2V1154.9H2127.9ZM772.2 1157H796V1180.87H772.2ZM942.1 1157H965.4V1180.87H942.1ZM1305.1 1157H1328.4V1180.87H1305.1ZM1450.3 1157H1473.6V1180.87H1450.3ZM1619.7 1157H1643V1180.87H1619.7ZM1789.1 1157H1812.4V1180.87H1789.1ZM1813.6 1157H1836.6V1180.87H1813.6ZM1837.8 1157H1860.8V1180.87H1837.8ZM2127.9 1157H2151.2V1180.87H2127.9ZM2152.4 1157H2175.4V1180.87H2152.4ZM2176.6 1157H2199.6V1180.87H2176.6ZM772.2 1182.96H796V1206.83H772.2ZM797.2 1182.96H820.2V1206.83H797.2ZM821.4 1182.96H844.4V1206.83H821.4ZM942.1 1182.96H965.4V1206.83H942.1ZM966.6 1182.96H989.6V1206.83H966.6ZM1111.5 1182.96H1134.8V1206.83H1111.5ZM1305.1 1182.96H1328.4V1206.83H1305.1ZM1329.6 1182.96H1352.6V1206.83H1329.6ZM1450.3 1182.96H1473.6V1206.83H1450.3ZM1474.8 1182.96H1497.8V1206.83H1474.8ZM1499 1182.96H1522V1206.83H1499ZM1619.7 1182.96H1643V1206.83H1619.7ZM1644.2 1182.96H1667.2V1206.83H1644.2ZM1789.1 1182.96H1812.4V1206.83H1789.1ZM1813.6 1182.96H1836.6V1206.83H1813.6ZM1982.7 1182.96H2006V1206.83H1982.7ZM2007.2 1182.96H2030.2V1206.83H2007.2ZM772.2 1208.93H796V1232.8H772.2ZM797.2 1208.93H820.2V1232.8H797.2ZM821.4 1208.93H844.4V1232.8H821.4ZM942.1 1208.93H965.4V1232.8H942.1ZM966.6 1208.93H989.6V1232.8H966.6ZM1111.5 1208.93H1134.8V1232.8H1111.5ZM1450.3 1208.93H1473.6V1232.8H1450.3ZM1474.8 1208.93H1497.8V1232.8H1474.8ZM1619.7 1208.93H1643V1232.8H1619.7ZM1644.2 1208.93H1667.2V1232.8H1644.2ZM1668.4 1208.93H1691.4V1232.8H1668.4ZM1692.6 1208.93H1715.6V1232.8H1692.6ZM1789.1 1208.93H1812.4V1232.8H1789.1ZM1813.6 1208.93H1836.6V1232.8H1813.6ZM1837.8 1208.93H1860.8V1232.8H1837.8ZM1982.7 1208.93H2006V1232.8H1982.7ZM2007.2 1208.93H2030.2V1232.8H2007.2ZM772.2 1234.9H796V1258.76H772.2ZM942.1 1234.9H965.4V1258.76H942.1ZM966.6 1234.9H989.6V1258.76H966.6ZM1111.5 1234.9H1134.8V1258.76H1111.5ZM1136 1234.9H1159V1258.76H1136ZM1160.2 1234.9H1183.2V1258.76H1160.2ZM1305.1 1234.9H1328.4V1258.76H1305.1ZM1329.6 1234.9H1352.6V1258.76H1329.6ZM1450.3 1234.9H1473.6V1258.76H1450.3ZM1619.7 1234.9H1643V1258.76H1619.7ZM1789.1 1234.9H1812.4V1258.76H1789.1ZM1982.7 1234.9H2006V1258.76H1982.7ZM1305.1 1260.86H1328.4V1284.73H1305.1ZM942.1 1286.83H965.4V1310.69H942.1ZM1111.5 1286.83H1134.8V1310.69H1111.5ZM1136 1286.83H1159V1310.69H1136ZM1160.2 1286.83H1183.2V1310.69H1160.2ZM1305.1 1286.83H1328.4V1310.69H1305.1ZM1619.7 1286.83H1643V1310.69H1619.7ZM1644.2 1286.83H1667.2V1310.69H1644.2ZM1789.1 1286.83H1812.4V1310.69H1789.1ZM1982.7 1286.83H2006V1310.69H1982.7ZM772.2 1312.79H796V1336.65H772.2ZM942.1 1338.75H965.4V1362.62H942.1ZM1111.5 1338.75H1134.8V1362.62H1111.5ZM1305.1 1338.75H1328.4V1362.62H1305.1ZM772.2 1364.72H796V1388.59H772.2ZM772.2 1390.69H796V1414.55H772.2ZM1111.5 1416.65H1134.8V1440.52H1111.5ZM1305.1 1416.65H1328.4V1440.52H1305.1ZM772.2 1468.58H796V1492.45H772.2ZM797.2 1468.58H820.2V1492.45H797.2ZM942.1 1468.58H965.4V1492.45H942.1ZM966.6 1468.58H989.6V1492.45H966.6ZM772.2 1494.55H796V1518.41H772.2ZM797.2 1494.55H820.2V1518.41H797.2ZM821.4 1494.55H844.4V1518.41H821.4ZM942.1 1494.55H965.4V1518.41H942.1ZM966.6 1494.55H989.6V1518.41H966.6ZM990.8 1494.55H1013.8V1518.41H990.8ZM772.2 1520.51H796V1544.38H772.2ZM797.2 1520.51H820.2V1544.38H797.2ZM772.2 1546.48H796V1570.34H772.2ZM797.2 1546.48H820.2V1570.34H797.2ZM821.4 1546.48H844.4V1570.34H821.4ZM942.1 1546.48H965.4V1570.34H942.1ZM772.2 1572.44H796V1596.31H772.2ZM797.2 1572.44H820.2V1596.31H797.2ZM821.4 1572.44H844.4V1596.31H821.4ZM845.6 1572.44H868.6V1596.31H845.6ZM942.1 1572.44H965.4V1596.31H942.1ZM966.6 1572.44H989.6V1596.31H966.6ZM772.2 1598.4H796V1622.27H772.2ZM797.2 1598.4H820.2V1622.27H797.2ZM821.4 1598.4H844.4V1622.27H821.4ZM845.6 1598.4H868.6V1622.27H845.6ZM942.1 1598.4H965.4V1622.27H942.1ZM966.6 1598.4H989.6V1622.27H966.6ZM772.2 1624.37H796V1648.24H772.2ZM772.2 1650.34H796V1674.2H772.2ZM797.2 1650.34H820.2V1674.2H797.2ZM821.4 1650.34H844.4V1674.2H821.4ZM845.6 1650.34H868.6V1674.2H845.6ZM772.2 1676.3H796V1700.17H772.2ZM797.2 1676.3H820.2V1700.17H797.2ZM772.2 1702.27H796V1726.13H772.2ZM772.2 1780.16H796V1804.03H772.2ZM772.2 1858.06H796V1881.92H772.2ZM772.2 1909.99H796V1933.9H772.2Z" fill="#008600"/>
<path d="M1015 429.4H1038V453.85H1015ZM1039.2 429.4H1062.2V453.85H1039.2ZM1184.4 429.4H1207.4V453.85H1184.4ZM1353.8 429.4H1376.8V453.85H1353.8ZM1015 455.95H1038V479.81H1015ZM1184.4 455.95H1207.4V479.81H1184.4ZM1208.6 455.95H1231.6V479.81H1208.6ZM1232.8 455.95H1255.8V479.81H1232.8ZM1329.6 455.95H1352.6V479.81H1329.6ZM1353.8 455.95H1376.8V479.81H1353.8ZM1378 455.95H1401V479.81H1378ZM1474.8 455.95H1497.8V479.81H1474.8ZM1499 455.95H1522V479.81H1499ZM1523.2 455.95H1546.2V479.81H1523.2ZM1378 481.91H1401V505.78H1378ZM1402.2 481.91H1425.2V505.78H1402.2ZM1499 481.91H1522V505.78H1499ZM1378 507.88H1401V531.74H1378ZM1644.2 585.77H1667.2V609.64H1644.2ZM1668.4 741.56H1691.4V765.43H1668.4ZM821.4 767.53H844.4V791.39H821.4ZM1015 767.53H1038V791.39H1015ZM1329.6 767.53H1352.6V791.39H1329.6ZM1692.6 767.53H1715.6V791.39H1692.6ZM1813.6 767.53H1836.6V791.39H1813.6ZM1837.8 767.53H1860.8V791.39H1837.8ZM797.2 793.49H820.2V817.36H797.2ZM1160.2 793.49H1183.2V817.36H1160.2ZM1184.4 793.49H1207.4V817.36H1184.4ZM1692.6 793.49H1715.6V817.36H1692.6ZM1813.6 793.49H1836.6V817.36H1813.6ZM1837.8 793.49H1860.8V817.36H1837.8ZM1378 819.46H1401V843.32H1378ZM1499 819.46H1522V843.32H1499ZM1378 871.38H1401V895.25H1378ZM1644.2 923.32H1667.2V947.18H1644.2ZM1813.6 923.32H1836.6V947.18H1813.6ZM1329.6 949.28H1352.6V973.15H1329.6ZM1523.2 949.28H1546.2V973.15H1523.2ZM1692.6 949.28H1715.6V973.15H1692.6ZM1789.1 949.28H1812.4V973.15H1789.1ZM1353.8 975.25H1376.8V999.11H1353.8ZM1378 975.25H1401V999.11H1378ZM1837.8 975.25H1860.8V999.11H1837.8ZM1160.2 1001.21H1183.2V1025.08H1160.2ZM1402.2 1001.21H1425.2V1025.08H1402.2ZM1450.3 1001.21H1473.6V1025.08H1450.3ZM1837.8 1001.21H1860.8V1025.08H1837.8ZM1184.4 1027.17H1207.4V1051.04H1184.4ZM1474.8 1027.17H1497.8V1051.04H1474.8ZM797.2 1053.14H820.2V1077.01H797.2ZM821.4 1053.14H844.4V1077.01H821.4ZM1305.1 1053.14H1328.4V1077.01H1305.1ZM1450.3 1053.14H1473.6V1077.01H1450.3ZM1619.7 1053.14H1643V1077.01H1619.7ZM1644.2 1053.14H1667.2V1077.01H1644.2ZM1789.1 1053.14H1812.4V1077.01H1789.1ZM1813.6 1053.14H1836.6V1077.01H1813.6ZM2007.2 1053.14H2030.2V1077.01H2007.2ZM2152.4 1053.14H2175.4V1077.01H2152.4ZM2176.6 1053.14H2199.6V1077.01H2176.6ZM1353.8 1079.11H1376.8V1102.97H1353.8ZM990.8 1105.07H1013.8V1128.94H990.8ZM1450.3 1105.07H1473.6V1128.94H1450.3ZM1813.6 1105.07H1836.6V1128.94H1813.6ZM2031.4 1105.07H2054.4V1128.94H2031.4ZM797.2 1131.04H820.2V1154.9H797.2ZM1353.8 1131.04H1376.8V1154.9H1353.8ZM1499 1131.04H1522V1154.9H1499ZM1619.7 1131.04H1643V1154.9H1619.7ZM1644.2 1131.04H1667.2V1154.9H1644.2ZM2152.4 1131.04H2175.4V1154.9H2152.4ZM2176.6 1131.04H2199.6V1154.9H2176.6ZM966.6 1157H989.6V1180.87H966.6ZM1111.5 1157H1134.8V1180.87H1111.5ZM1329.6 1157H1352.6V1180.87H1329.6ZM1474.8 1157H1497.8V1180.87H1474.8ZM1499 1157H1522V1180.87H1499ZM1862 1157H1885V1180.87H1862ZM1982.7 1157H2006V1180.87H1982.7ZM2007.2 1157H2030.2V1180.87H2007.2ZM1668.4 1182.96H1691.4V1206.83H1668.4ZM2031.4 1182.96H2054.4V1206.83H2031.4ZM2127.9 1182.96H2151.2V1206.83H2127.9ZM1305.1 1208.93H1328.4V1232.8H1305.1ZM2031.4 1208.93H2054.4V1232.8H2031.4ZM2127.9 1208.93H2151.2V1232.8H2127.9ZM1184.4 1234.9H1207.4V1258.76H1184.4ZM1353.8 1234.9H1376.8V1258.76H1353.8ZM1474.8 1234.9H1497.8V1258.76H1474.8ZM1499 1234.9H1522V1258.76H1499ZM1644.2 1234.9H1667.2V1258.76H1644.2ZM1813.6 1234.9H1836.6V1258.76H1813.6ZM2007.2 1234.9H2030.2V1258.76H2007.2ZM772.2 1260.86H796V1284.73H772.2ZM942.1 1260.86H965.4V1284.73H942.1ZM1450.3 1260.86H1473.6V1284.73H1450.3ZM1789.1 1260.86H1812.4V1284.73H1789.1ZM1184.4 1286.83H1207.4V1310.69H1184.4ZM1450.3 1286.83H1473.6V1310.69H1450.3ZM1668.4 1286.83H1691.4V1310.69H1668.4ZM1692.6 1286.83H1715.6V1310.69H1692.6ZM1813.6 1286.83H1836.6V1310.69H1813.6ZM2007.2 1286.83H2030.2V1310.69H2007.2ZM2127.9 1286.83H2151.2V1310.69H2127.9ZM2152.4 1286.83H2175.4V1310.69H2152.4ZM1136 1338.75H1159V1362.62H1136ZM1329.6 1338.75H1352.6V1362.62H1329.6ZM1450.3 1338.75H1473.6V1362.62H1450.3ZM1111.5 1364.72H1134.8V1388.59H1111.5ZM1305.1 1364.72H1328.4V1388.59H1305.1ZM821.4 1468.58H844.4V1492.45H821.4ZM1111.5 1494.55H1134.8V1518.41H1111.5ZM821.4 1520.51H844.4V1544.38H821.4ZM845.6 1546.48H868.6V1570.34H845.6Z" fill="#D2FF6E"/>
<path d="M894 429.4H917V453.85H894ZM918.2 429.4H939.1V453.85H918.2ZM1063.4 429.4H1086.4V453.85H1063.4ZM1208.6 429.4H1231.6V453.85H1208.6ZM1378 429.4H1401V453.85H1378ZM821.4 455.95H844.4V479.81H821.4ZM845.6 455.95H868.6V479.81H845.6ZM1039.2 455.95H1062.2V479.81H1039.2ZM1063.4 455.95H1086.4V479.81H1063.4ZM1087.6 455.95H1108.5V479.81H1087.6ZM1257 455.95H1280V479.81H1257ZM1402.2 455.95H1425.2V479.81H1402.2ZM1547.4 455.95H1570.4V479.81H1547.4ZM1571.6 455.95H1594.6V479.81H1571.6ZM1595.8 455.95H1616.7V479.81H1595.8ZM990.8 481.91H1013.8V505.78H990.8ZM1015 481.91H1038V505.78H1015ZM1160.2 481.91H1183.2V505.78H1160.2ZM1015 507.88H1038V531.74H1015ZM1668.4 585.77H1691.4V609.64H1668.4ZM845.6 767.53H868.6V791.39H845.6ZM869.8 767.53H892.8V791.39H869.8ZM1353.8 767.53H1376.8V791.39H1353.8ZM1378 767.53H1401V791.39H1378ZM1499 767.53H1522V791.39H1499ZM1523.2 767.53H1546.2V791.39H1523.2ZM821.4 793.49H844.4V817.36H821.4ZM845.6 793.49H868.6V817.36H845.6ZM966.6 793.49H989.6V817.36H966.6ZM990.8 793.49H1013.8V817.36H990.8ZM1015 793.49H1038V817.36H1015ZM1523.2 793.49H1546.2V817.36H1523.2ZM1716.8 793.49H1739.8V817.36H1716.8ZM1015 819.46H1038V843.32H1015ZM1160.2 819.46H1183.2V843.32H1160.2ZM1523.2 819.46H1546.2V843.32H1523.2ZM1547.4 819.46H1570.4V843.32H1547.4ZM1015 871.38H1038V895.25H1015ZM1015 923.32H1038V947.18H1015ZM1837.8 923.32H1860.8V947.18H1837.8ZM990.8 949.28H1013.8V973.15H990.8ZM1015 949.28H1038V973.15H1015ZM1547.4 949.28H1570.4V973.15H1547.4ZM1813.6 949.28H1836.6V973.15H1813.6ZM966.6 975.25H989.6V999.11H966.6ZM990.8 975.25H1013.8V999.11H990.8ZM1523.2 975.25H1546.2V999.11H1523.2ZM1692.6 975.25H1715.6V999.11H1692.6ZM821.4 1001.21H844.4V1025.08H821.4ZM966.6 1001.21H989.6V1025.08H966.6ZM990.8 1001.21H1013.8V1025.08H990.8ZM1184.4 1001.21H1207.4V1025.08H1184.4ZM1474.8 1001.21H1497.8V1025.08H1474.8ZM1716.8 1001.21H1739.8V1025.08H1716.8ZM821.4 1027.17H844.4V1051.04H821.4ZM1499 1027.17H1522V1051.04H1499ZM845.6 1053.14H868.6V1077.01H845.6ZM869.8 1053.14H892.8V1077.01H869.8ZM894 1053.14H917V1077.01H894ZM918.2 1053.14H939.1V1077.01H918.2ZM990.8 1053.14H1013.8V1077.01H990.8ZM1015 1053.14H1038V1077.01H1015ZM1136 1053.14H1159V1077.01H1136ZM1160.2 1053.14H1183.2V1077.01H1160.2ZM1329.6 1053.14H1352.6V1077.01H1329.6ZM1353.8 1053.14H1376.8V1077.01H1353.8ZM1378 1053.14H1401V1077.01H1378ZM1474.8 1053.14H1497.8V1077.01H1474.8ZM1499 1053.14H1522V1077.01H1499ZM1837.8 1053.14H1860.8V1077.01H1837.8ZM1862 1053.14H1885V1077.01H1862ZM2031.4 1053.14H2054.4V1077.01H2031.4ZM2055.6 1053.14H2078.6V1077.01H2055.6ZM2079.8 1053.14H2102.8V1077.01H2079.8ZM2104 1053.14H2124.9V1077.01H2104ZM2200.8 1053.14H2223.8V1077.01H2200.8ZM2225 1053.14H2248V1077.01H2225ZM2249.2 1053.14H2272.2V1077.01H2249.2ZM1015 1079.11H1038V1102.97H1015ZM845.6 1105.07H868.6V1128.94H845.6ZM1474.8 1105.07H1497.8V1128.94H1474.8ZM1644.2 1105.07H1667.2V1128.94H1644.2ZM1668.4 1105.07H1691.4V1128.94H1668.4ZM1837.8 1105.07H1860.8V1128.94H1837.8ZM1862 1105.07H1885V1128.94H1862ZM821.4 1131.04H844.4V1154.9H821.4ZM845.6 1131.04H868.6V1154.9H845.6ZM966.6 1131.04H989.6V1154.9H966.6ZM990.8 1131.04H1013.8V1154.9H990.8ZM1813.6 1131.04H1836.6V1154.9H1813.6ZM797.2 1157H820.2V1180.87H797.2ZM821.4 1157H844.4V1180.87H821.4ZM845.6 1157H868.6V1180.87H845.6ZM990.8 1157H1013.8V1180.87H990.8ZM1136 1157H1159V1180.87H1136ZM1160.2 1157H1183.2V1180.87H1160.2ZM1523.2 1157H1546.2V1180.87H1523.2ZM1644.2 1157H1667.2V1180.87H1644.2ZM1668.4 1157H1691.4V1180.87H1668.4ZM1692.6 1157H1715.6V1180.87H1692.6ZM1886.2 1157H1909.2V1180.87H1886.2ZM2031.4 1157H2054.4V1180.87H2031.4ZM2055.6 1157H2078.6V1180.87H2055.6ZM1692.6 1182.96H1715.6V1206.83H1692.6ZM1837.8 1182.96H1860.8V1206.83H1837.8ZM2055.6 1182.96H2078.6V1206.83H2055.6ZM2152.4 1182.96H2175.4V1206.83H2152.4ZM1329.6 1208.93H1352.6V1232.8H1329.6ZM797.2 1234.9H820.2V1258.76H797.2ZM990.8 1234.9H1013.8V1258.76H990.8ZM1015 1234.9H1038V1258.76H1015ZM1378 1234.9H1401V1258.76H1378ZM1523.2 1234.9H1546.2V1258.76H1523.2ZM1547.4 1234.9H1570.4V1258.76H1547.4ZM1668.4 1234.9H1691.4V1258.76H1668.4ZM1837.8 1234.9H1860.8V1258.76H1837.8ZM1862 1234.9H1885V1258.76H1862ZM1886.2 1234.9H1909.2V1258.76H1886.2ZM2031.4 1234.9H2054.4V1258.76H2031.4ZM2127.9 1234.9H2151.2V1258.76H2127.9ZM2152.4 1234.9H2175.4V1258.76H2152.4ZM2176.6 1234.9H2199.6V1258.76H2176.6ZM797.2 1260.86H820.2V1284.73H797.2ZM966.6 1260.86H989.6V1284.73H966.6ZM990.8 1260.86H1013.8V1284.73H990.8ZM1111.5 1260.86H1134.8V1284.73H1111.5ZM1136 1260.86H1159V1284.73H1136ZM1160.2 1260.86H1183.2V1284.73H1160.2ZM1184.4 1260.86H1207.4V1284.73H1184.4ZM1208.6 1260.86H1231.6V1284.73H1208.6ZM1232.8 1260.86H1255.8V1284.73H1232.8ZM1257 1260.86H1280V1284.73H1257ZM1329.6 1260.86H1352.6V1284.73H1329.6ZM1353.8 1260.86H1376.8V1284.73H1353.8ZM1378 1260.86H1401V1284.73H1378ZM1474.8 1260.86H1497.8V1284.73H1474.8ZM1619.7 1260.86H1643V1284.73H1619.7ZM1813.6 1260.86H1836.6V1284.73H1813.6ZM1982.7 1260.86H2006V1284.73H1982.7ZM2127.9 1260.86H2151.2V1284.73H2127.9ZM772.2 1286.83H796V1310.69H772.2ZM966.6 1286.83H989.6V1310.69H966.6ZM797.2 1312.79H820.2V1336.65H797.2ZM821.4 1312.79H844.4V1336.65H821.4ZM845.6 1312.79H868.6V1336.65H845.6ZM869.8 1312.79H892.8V1336.65H869.8ZM894 1312.79H917V1336.65H894ZM772.2 1338.75H796V1362.62H772.2ZM797.2 1338.75H820.2V1362.62H797.2ZM821.4 1338.75H844.4V1362.62H821.4ZM966.6 1338.75H989.6V1362.62H966.6ZM1160.2 1338.75H1183.2V1362.62H1160.2ZM1184.4 1338.75H1207.4V1362.62H1184.4ZM1208.6 1338.75H1231.6V1362.62H1208.6ZM1353.8 1338.75H1376.8V1362.62H1353.8ZM1378 1338.75H1401V1362.62H1378ZM1474.8 1338.75H1497.8V1362.62H1474.8ZM1499 1338.75H1522V1362.62H1499ZM1523.2 1338.75H1546.2V1362.62H1523.2ZM797.2 1364.72H820.2V1388.59H797.2ZM821.4 1364.72H844.4V1388.59H821.4ZM797.2 1390.69H820.2V1414.55H797.2ZM821.4 1390.69H844.4V1414.55H821.4ZM772.2 1416.65H796V1440.52H772.2ZM797.2 1416.65H820.2V1440.52H797.2ZM845.6 1468.58H868.6V1492.45H845.6ZM869.8 1468.58H892.8V1492.45H869.8ZM990.8 1468.58H1013.8V1492.45H990.8ZM1015 1468.58H1038V1492.45H1015ZM1039.2 1468.58H1062.2V1492.45H1039.2ZM1015 1494.55H1038V1518.41H1015ZM845.6 1520.51H868.6V1544.38H845.6ZM869.8 1520.51H892.8V1544.38H869.8ZM869.8 1546.48H892.8V1570.34H869.8ZM990.8 1572.44H1013.8V1596.31H990.8ZM797.2 1624.37H820.2V1648.24H797.2ZM821.4 1624.37H844.4V1648.24H821.4ZM821.4 1676.3H844.4V1700.17H821.4ZM845.6 1676.3H868.6V1700.17H845.6ZM797.2 1702.27H820.2V1726.13H797.2ZM821.4 1702.27H844.4V1726.13H821.4ZM845.6 1702.27H868.6V1726.13H845.6ZM772.2 1728.23H796V1752.1H772.2ZM942.1 1754.19H965.4V1778.06H942.1ZM797.2 1780.16H820.2V1804.03H797.2ZM772.2 1884.02H796V1907.89H772.2Z" fill="#FF4500"/>
<path d="M1692.6 741.56H1715.6V765.43H1692.6ZM1547.4 767.53H1570.4V791.39H1547.4ZM1862 793.49H1885V817.36H1862ZM1499 1001.21H1522V1025.08H1499ZM1523.2 1027.17H1546.2V1051.04H1523.2ZM1499 1105.07H1522V1128.94H1499ZM1886.2 1105.07H1909.2V1128.94H1886.2ZM1378 1131.04H1401V1154.9H1378ZM1837.8 1131.04H1860.8V1154.9H1837.8ZM2031.4 1131.04H2054.4V1154.9H2031.4ZM2200.8 1131.04H2223.8V1154.9H2200.8ZM1523.2 1182.96H1546.2V1206.83H1523.2ZM1862 1182.96H1885V1206.83H1862ZM1886.2 1182.96H1909.2V1206.83H1886.2ZM2079.8 1182.96H2102.8V1206.83H2079.8ZM1499 1208.93H1522V1232.8H1499ZM1862 1208.93H1885V1232.8H1862ZM1886.2 1208.93H1909.2V1232.8H1886.2ZM1910.4 1208.93H1933.4V1232.8H1910.4ZM1934.6 1208.93H1957.6V1232.8H1934.6ZM1958.8 1208.93H1979.7V1232.8H1958.8ZM2055.6 1208.93H2078.6V1232.8H2055.6ZM1039.2 1234.9H1062.2V1258.76H1039.2ZM1063.4 1234.9H1086.4V1258.76H1063.4ZM1692.6 1234.9H1715.6V1258.76H1692.6ZM1910.4 1234.9H1933.4V1258.76H1910.4ZM1934.6 1234.9H1957.6V1258.76H1934.6ZM1281.2 1260.86H1302.1V1284.73H1281.2ZM797.2 1286.83H820.2V1310.69H797.2ZM1474.8 1286.83H1497.8V1310.69H1474.8ZM1499 1286.83H1522V1310.69H1499ZM1716.8 1286.83H1739.8V1310.69H1716.8ZM1741 1286.83H1764V1310.69H1741ZM1765.2 1286.83H1786.1V1310.69H1765.2ZM1837.8 1286.83H1860.8V1310.69H1837.8ZM1862 1286.83H1885V1310.69H1862ZM1886.2 1286.83H1909.2V1310.69H1886.2ZM2031.4 1286.83H2054.4V1310.69H2031.4ZM2055.6 1286.83H2078.6V1310.69H2055.6ZM2176.6 1286.83H2199.6V1310.69H2176.6ZM942.1 1312.79H965.4V1336.65H942.1ZM966.6 1312.79H989.6V1336.65H966.6ZM990.8 1338.75H1013.8V1362.62H990.8ZM1232.8 1338.75H1255.8V1362.62H1232.8ZM1402.2 1338.75H1425.2V1362.62H1402.2ZM1426.4 1338.75H1447.3V1362.62H1426.4ZM1547.4 1338.75H1570.4V1362.62H1547.4ZM1571.6 1338.75H1594.6V1362.62H1571.6ZM1595.8 1338.75H1616.7V1362.62H1595.8ZM845.6 1364.72H868.6V1388.59H845.6ZM869.8 1364.72H892.8V1388.59H869.8ZM942.1 1364.72H965.4V1388.59H942.1ZM966.6 1364.72H989.6V1388.59H966.6ZM1136 1364.72H1159V1388.59H1136ZM1329.6 1364.72H1352.6V1388.59H1329.6ZM1136 1494.55H1159V1518.41H1136ZM894 1520.51H917V1544.38H894ZM845.6 1624.37H868.6V1648.24H845.6ZM942.1 1624.37H965.4V1648.24H942.1ZM821.4 1780.16H844.4V1804.03H821.4ZM772.2 1806.12H796V1829.99H772.2ZM797.2 1806.12H820.2V1829.99H797.2ZM772.2 1832.09H796V1855.96H772.2ZM797.2 1832.09H820.2V1855.96H797.2ZM797.2 1858.06H820.2V1881.92H797.2Z" fill="#404040"/>
<line x1="772.2" y1="1052.09" x2="2272.9" y2="1052.09" stroke="#0055FF" stroke-width="5.4"/>
<line x1="772.2" y1="1312.94" x2="2272.9" y2="1312.94" stroke="#0055FF" stroke-width="5.4"/>
<line x1="940.5" y1="427.8" x2="940.5" y2="1935.5" stroke="#000" stroke-width="3.8"/>
<line x1="1109.9" y1="427.8" x2="1109.9" y2="1935.5" stroke="#000" stroke-width="3.8"/>
<line x1="1303.5" y1="427.8" x2="1303.5" y2="1935.5" stroke="#000" stroke-width="3.8"/>
<line x1="1448.7" y1="427.8" x2="1448.7" y2="1935.5" stroke="#000" stroke-width="3.8"/>
<line x1="1618.1" y1="427.8" x2="1618.1" y2="1935.5" stroke="#000" stroke-width="3.8"/>
<line x1="1787.5" y1="427.8" x2="1787.5" y2="1935.5" stroke="#000" stroke-width="3.8"/>
<line x1="1981.1" y1="427.8" x2="1981.1" y2="1935.5" stroke="#000" stroke-width="3.8"/>
<line x1="2126.3" y1="427.8" x2="2126.3" y2="1935.5" stroke="#000" stroke-width="3.8"/>
<path d="M771.1 426V1937.3" stroke="#000" stroke-width="2.1" fill="none"/>
<path d="M2274.5 426V1937.3" stroke="#000" stroke-width="3.3" fill="none"/>
<path d="M770 427.8H2276.15M770 1935.5H2276.15" stroke="#000" stroke-width="3.6" fill="none"/>
<line x1="1786.4" y1="426" x2="1786.4" y2="1937" stroke="#0055FF" stroke-width="11.1" stroke-dasharray="30.7 14.3"/>
<path d="M757 1806.8H771.2M757 1677.05H771.2M757 1547.29H771.2M757 1417.53H771.2M757 1287.78H771.2M757 1158.03H771.2M757 1028.27H771.2M757 898.51H771.2M757 768.76H771.2M757 639H771.2M757 428H771.2" stroke="#000" stroke-width="3.9" fill="none"/>
<rect x="2312.9" y="429.1" width="38" height="622.9" fill="#008600"/>
<rect x="2312.9" y="1052" width="38" height="261" fill="#FFEB00"/>
<rect x="2312.9" y="1313" width="38" height="620.8" fill="#FF4500"/>
<rect x="2315.4" y="1049.3" width="35.5" height="5.4" fill="#0055FF"/>
<rect x="2315.4" y="1310.3" width="35.5" height="5.4" fill="#0055FF"/>
<g font-family="'Liberation Sans', Arial, sans-serif" fill="#000" style="white-space:pre">
<text x="25.58" y="58.6" font-size="44.2" font-weight="bold" textLength="2348.59" lengthAdjust="spacingAndGlyphs">Studienverlaufsanalyse: Erfolgsbilanz (alle Versuche aus der Leistungsanalyse), Indikator 'Studiengangsabschluss'</text>
<text x="25.36" y="124.2" font-size="35.2" fill="#2a2a2a" textLength="1433.07" lengthAdjust="spacingAndGlyphs">alle Leistungsversuche bis zum Ende des 9. Fachsemesters; fachgebundene Leistungen</text>
<text x="25.51" y="162.3" font-size="35.2" fill="#2a2a2a" textLength="929.77" lengthAdjust="spacingAndGlyphs">Studienabschlussstatus zu Beginn des 9. Fachsemesters</text>
<text x="25.68" y="200.4" font-size="35.2" fill="#2a2a2a" textLength="114.58" lengthAdjust="spacingAndGlyphs">Frauen</text>
<text x="25.64" y="260" font-size="44.4" textLength="518.94" lengthAdjust="spacingAndGlyphs">Studienfach: Studienfach 1</text>
<text x="25.03" y="317.3" font-size="44.4" textLength="1318.02" lengthAdjust="spacingAndGlyphs">Ersteinschreibung Wintersemester 2013/14 (Sicherung: 21.06.2021)</text>
<text x="591.74" y="388.8" font-size="29.6" font-weight="bold" textLength="163.97" lengthAdjust="spacingAndGlyphs">aktive Fälle</text>
<text x="12.28" y="481" font-size="29.8" textLength="345.52" lengthAdjust="spacingAndGlyphs">n = 58 studienaktive Fälle</text>
<text x="12.12" y="512.5" font-size="29.8" textLength="359.99" lengthAdjust="spacingAndGlyphs">58 studienaktive Personen</text>
<text x="2287.15" y="1984.2" font-size="30.2" font-weight="bold" textLength="198.7" lengthAdjust="spacingAndGlyphs">Fachsemester</text>
<text x="2311.63" y="395.4" font-size="29.8" textLength="326.67" lengthAdjust="spacingAndGlyphs">Studienabschlussstatus</text>
<text x="2364.54" y="426.4" font-size="29.8" textLength="227.26" lengthAdjust="spacingAndGlyphs">Beginn des 9. FS.</text>
<text x="2360.99" y="476.6" font-size="29.8" textLength="258.37" lengthAdjust="spacingAndGlyphs">Absolventen*innen</text>
<text x="2359.78" y="1080.7" font-size="29.8" textLength="223.14" lengthAdjust="spacingAndGlyphs">Eingeschriebene</text>
<text x="2360.97" y="1336" font-size="29.8" textLength="228.39" lengthAdjust="spacingAndGlyphs">Abbrecher*innen</text>
<text x="727.2" y="1817.2" font-size="29.8" textLength="16.19" lengthAdjust="spacingAndGlyphs">5</text>
<text x="712.37" y="1687.45" font-size="29.8" textLength="30.9" lengthAdjust="spacingAndGlyphs">10</text>
<text x="714.29" y="1557.69" font-size="29.8" textLength="28.87" lengthAdjust="spacingAndGlyphs">15</text>
<text x="708.74" y="1427.93" font-size="29.8" textLength="34.66" lengthAdjust="spacingAndGlyphs">20</text>
<text x="710.76" y="1298.18" font-size="29.8" textLength="32.64" lengthAdjust="spacingAndGlyphs">25</text>
<text x="708.65" y="1168.43" font-size="29.8" textLength="34.76" lengthAdjust="spacingAndGlyphs">30</text>
<text x="710.93" y="1038.67" font-size="29.8" textLength="32.42" lengthAdjust="spacingAndGlyphs">35</text>
<text x="707.51" y="908.91" font-size="29.8" textLength="35.95" lengthAdjust="spacingAndGlyphs">40</text>
<text x="709.43" y="779.16" font-size="29.8" textLength="34.03" lengthAdjust="spacingAndGlyphs">45</text>
<text x="709.4" y="649.4" font-size="29.8" textLength="33.98" lengthAdjust="spacingAndGlyphs">50</text>
<text x="709.22" y="438.4" font-size="29.8" textLength="34.35" lengthAdjust="spacingAndGlyphs">58</text>
<text x="772.54" y="1984" font-size="29.8" textLength="15.42" lengthAdjust="spacingAndGlyphs">1</text>
<text x="940.79" y="1984" font-size="29.8" textLength="19.58" lengthAdjust="spacingAndGlyphs">2</text>
<text x="1110.02" y="1984" font-size="29.8" textLength="18.42" lengthAdjust="spacingAndGlyphs">3</text>
<text x="1303.62" y="1984" font-size="29.8" textLength="18.78" lengthAdjust="spacingAndGlyphs">4</text>
<text x="1449.98" y="1984" font-size="29.8" textLength="17.62" lengthAdjust="spacingAndGlyphs">5</text>
<text x="1618.82" y="1984" font-size="29.8" textLength="17.8" lengthAdjust="spacingAndGlyphs">6</text>
<text x="1788.82" y="1984" font-size="29.8" textLength="18.16" lengthAdjust="spacingAndGlyphs">7</text>
<text x="1981.82" y="1984" font-size="29.8" textLength="17.9" lengthAdjust="spacingAndGlyphs">8</text>
<text x="2126.01" y="1984" font-size="29.8" textLength="18.09" lengthAdjust="spacingAndGlyphs">9</text>
<text x="2768.67" y="457" font-size="29.8" textLength="208.59" lengthAdjust="spacingAndGlyphs">Studienverlauf:</text>
<text x="2768.32" y="519.73" font-size="29.8" textLength="480.94" lengthAdjust="spacingAndGlyphs">Dargestellt wird der Studienverlauf</text>
<text x="2770.15" y="551.1" font-size="29.8" textLength="495.58" lengthAdjust="spacingAndGlyphs">jedes Studierenden einer Kohorte als</text>
<text x="2769.31" y="582.46" font-size="29.8" textLength="348.48" lengthAdjust="spacingAndGlyphs">Abfolge von Studien - und</text>
<text x="2768.04" y="613.83" font-size="29.8" textLength="520.67" lengthAdjust="spacingAndGlyphs">Prüfungsleistungen.Hochschulexterne</text>
<text x="2768.34" y="645.19" font-size="29.8" textLength="415.97" lengthAdjust="spacingAndGlyphs">Leistungen, die im Rahmen des</text>
<text x="2768.58" y="676.55" font-size="29.8" textLength="493.67" lengthAdjust="spacingAndGlyphs">Studiums anerkannt wurden, fanden</text>
<text x="2768.77" y="707.92" font-size="29.8" textLength="451.1" lengthAdjust="spacingAndGlyphs">keine Berücksichtigung. Gewertet</text>
<text x="2769.7" y="739.28" font-size="29.8" textLength="380.04" lengthAdjust="spacingAndGlyphs">werden dabei alle Versuche.</text>
<text x="2768.29" y="770.65" font-size="29.8" textLength="365.09" lengthAdjust="spacingAndGlyphs">Rücktritte sind aussortiert.</text>
<text x="2768.3" y="864.75" font-size="29.8" textLength="262.97" lengthAdjust="spacingAndGlyphs">Kohortendefinition:</text>
<text x="2768.26" y="927.47" font-size="29.8" textLength="481.15" lengthAdjust="spacingAndGlyphs">Eine Kohorte besteht aus Personen,</text>
<text x="2768.96" y="958.84" font-size="29.8" textLength="518.78" lengthAdjust="spacingAndGlyphs">die sich im ersten Semester desselben</text>
<text x="2769.54" y="990.2" font-size="29.8" textLength="473.94" lengthAdjust="spacingAndGlyphs">Jahrgangs im gleichen Studiengang</text>
<text x="2768.92" y="1021.57" font-size="29.8" textLength="302.55" lengthAdjust="spacingAndGlyphs">eingeschrieben haben.</text>
<text x="2768.7" y="1052.93" font-size="29.8" textLength="507.31" lengthAdjust="spacingAndGlyphs">Zur Kohorte zählen Teilnehmer*innen</text>
<text x="2768.8" y="1084.3" font-size="29.8" textLength="223.13" lengthAdjust="spacingAndGlyphs">mit Hörerstatus:</text>
<text x="2768.32" y="1115.66" font-size="29.8" textLength="210.47" lengthAdjust="spacingAndGlyphs">- Studierende/r</text>
<text x="2769.54" y="1147.03" font-size="29.8" textLength="536.54" lengthAdjust="spacingAndGlyphs">Von Amts wegen gelöschte Studierende</text>
<text x="2769.69" y="1178.39" font-size="29.8" textLength="354.57" lengthAdjust="spacingAndGlyphs">wurden aussortiert. Höher</text>
<text x="2768.89" y="1209.76" font-size="29.8" textLength="470.22" lengthAdjust="spacingAndGlyphs">eingestufte Studierende zählen als</text>
<text x="2768.25" y="1241.12" font-size="29.8" textLength="460.92" lengthAdjust="spacingAndGlyphs">Kohortenlose. Studierende, die nie</text>
<text x="2768.75" y="1272.49" font-size="29.8" textLength="486.07" lengthAdjust="spacingAndGlyphs">eine Prüfung aktiv belegt haben und</text>
<text x="2768.45" y="1303.86" font-size="29.8" textLength="468.49" lengthAdjust="spacingAndGlyphs">zum Zeitpunkt der Datensicherung</text>
<text x="2768.69" y="1335.22" font-size="29.8" textLength="472.56" lengthAdjust="spacingAndGlyphs">keine Erstsemester waren, wurden</text>
<text x="2768.72" y="1366.59" font-size="29.8" textLength="511.29" lengthAdjust="spacingAndGlyphs">aussortiert. Studierende werden nach</text>
<text x="2768.93" y="1397.95" font-size="29.8" textLength="414.46" lengthAdjust="spacingAndGlyphs">der Zahl ihrer Einschreibungen</text>
<text x="2768.85" y="1429.32" font-size="29.8" textLength="238.45" lengthAdjust="spacingAndGlyphs">berechnet (Fälle).</text>
<text x="1164.69" y="2090" font-size="30.5" textLength="111.68" lengthAdjust="spacingAndGlyphs">gesamt</text>
<text x="1377.31" y="2090" font-size="30.5" textLength="290.05" lengthAdjust="spacingAndGlyphs">Absolventen*innen</text>
<text x="1731" y="2090" font-size="30.5" textLength="183.28" lengthAdjust="spacingAndGlyphs">Studierende</text>
<text x="1996.62" y="2090" font-size="30.5" textLength="255.73" lengthAdjust="spacingAndGlyphs">Abbrecher*innen</text>
<text x="735.56" y="2178" font-size="30.5" textLength="284.1" lengthAdjust="spacingAndGlyphs">Leistungsversuche</text>
<text x="329.83" y="2249.8" font-size="30.5" textLength="640.07" lengthAdjust="spacingAndGlyphs">erfolgreiche Leistungen im ersten Versuch</text>
<text x="301.94" y="2296.9" font-size="30.5" textLength="667.91" lengthAdjust="spacingAndGlyphs">erfolgreiche Leistungen im höheren Versuch</text>
<text x="519.06" y="2344.2" font-size="30.5" textLength="450.87" lengthAdjust="spacingAndGlyphs">noch unbewertete Leistungen</text>
<text x="526.88" y="2391.6" font-size="30.5" textLength="442.91" lengthAdjust="spacingAndGlyphs">nicht erfolgreiche Leistungen</text>
<text x="534.52" y="2439.6" font-size="30.5" textLength="435.41" lengthAdjust="spacingAndGlyphs">nicht zur Prüfung erschienen</text>
<text x="1198" y="2179" font-size="30" textLength="49.3" lengthAdjust="spacingAndGlyphs">933</text>
<text x="1502.48" y="2179" font-size="30" textLength="42.31" lengthAdjust="spacingAndGlyphs">515</text>
<text x="1799.84" y="2179" font-size="30" textLength="50.59" lengthAdjust="spacingAndGlyphs">293</text>
<text x="2103.17" y="2179" font-size="30" textLength="44.32" lengthAdjust="spacingAndGlyphs">125</text>
<text x="1198.96" y="2249.9" font-size="30" textLength="48.35" lengthAdjust="spacingAndGlyphs">567</text>
<text x="1497.74" y="2249.9" font-size="30" textLength="52.98" lengthAdjust="spacingAndGlyphs">404</text>
<text x="1804.31" y="2249.9" font-size="30" textLength="40.36" lengthAdjust="spacingAndGlyphs">116</text>
<text x="2109.54" y="2249.9" font-size="30" textLength="33.08" lengthAdjust="spacingAndGlyphs">47</text>
<text x="1202.45" y="2297" font-size="30" textLength="39.08" lengthAdjust="spacingAndGlyphs">115</text>
<text x="1506.71" y="2297" font-size="30" textLength="34.05" lengthAdjust="spacingAndGlyphs">50</text>
<text x="1808.54" y="2297" font-size="30" textLength="33.57" lengthAdjust="spacingAndGlyphs">56</text>
<text x="2117.76" y="2297" font-size="30" textLength="16.74" lengthAdjust="spacingAndGlyphs">9</text>
<text x="1214.57" y="2344.5" font-size="30" textLength="17.26" lengthAdjust="spacingAndGlyphs">0</text>
<text x="1515.84" y="2344.5" font-size="30" textLength="16.51" lengthAdjust="spacingAndGlyphs">0</text>
<text x="1816.82" y="2344.5" font-size="30" textLength="16.26" lengthAdjust="spacingAndGlyphs">0</text>
<text x="2117.81" y="2344.5" font-size="30" textLength="16.76" lengthAdjust="spacingAndGlyphs">0</text>
<text x="1199.06" y="2391.6" font-size="30" textLength="47.78" lengthAdjust="spacingAndGlyphs">186</text>
<text x="1508.04" y="2391.6" font-size="30" textLength="33.07" lengthAdjust="spacingAndGlyphs">56</text>
<text x="1807.86" y="2391.6" font-size="30" textLength="34.07" lengthAdjust="spacingAndGlyphs">86</text>
<text x="2108.62" y="2391.6" font-size="30" textLength="34.62" lengthAdjust="spacingAndGlyphs">44</text>
<text x="1206.73" y="2439.4" font-size="30" textLength="32.93" lengthAdjust="spacingAndGlyphs">65</text>
<text x="1516.34" y="2439.4" font-size="30" textLength="15.13" lengthAdjust="spacingAndGlyphs">5</text>
<text x="1809.39" y="2439.4" font-size="30" textLength="31.42" lengthAdjust="spacingAndGlyphs">35</text>
<text x="2110.31" y="2439.4" font-size="30" textLength="31.31" lengthAdjust="spacingAndGlyphs">25</text>
</g>
<path d="M1097.1 2143.5H1351.6V2191.8H1097.1ZM1373.1 2143.5H2279.5V2191.8H1373.1ZM1097.1 2214.4H1351.6V2452.6H1097.1ZM1373.1 2214.4H2279.5V2452.6H1373.1ZM1097.1 2261.9H1351.6M1373.1 2261.9H2279.5M1097.1 2309.4H1351.6M1373.1 2309.4H2279.5M1097.1 2356.9H1351.6M1373.1 2356.9H2279.5M1097.1 2404.1H1351.6M1373.1 2404.1H2279.5M1674 2143.5V2191.8M1674 2214.4V2452.6M1975.3 2143.5V2191.8M1975.3 2214.4V2452.6" stroke="#000" stroke-width="2.5" fill="none"/>
<circle cx="1021.6" cy="2236.4" r="17.9" fill="#008600" stroke="#000" stroke-width="1.2"/>
<circle cx="1021.6" cy="2283.4" r="17.9" fill="#D2FF6E" stroke="#000" stroke-width="1.2"/>
<circle cx="1021.6" cy="2331.6" r="17.9" fill="#FFEB00" stroke="#000" stroke-width="1.2"/>
<circle cx="1021.6" cy="2379" r="17.9" fill="#FF4500" stroke="#000" stroke-width="1.2"/>
<circle cx="1021.6" cy="2426.6" r="17.9" fill="#404040" stroke="#000" stroke-width="1.2"/>
</svg>
</body></html>
